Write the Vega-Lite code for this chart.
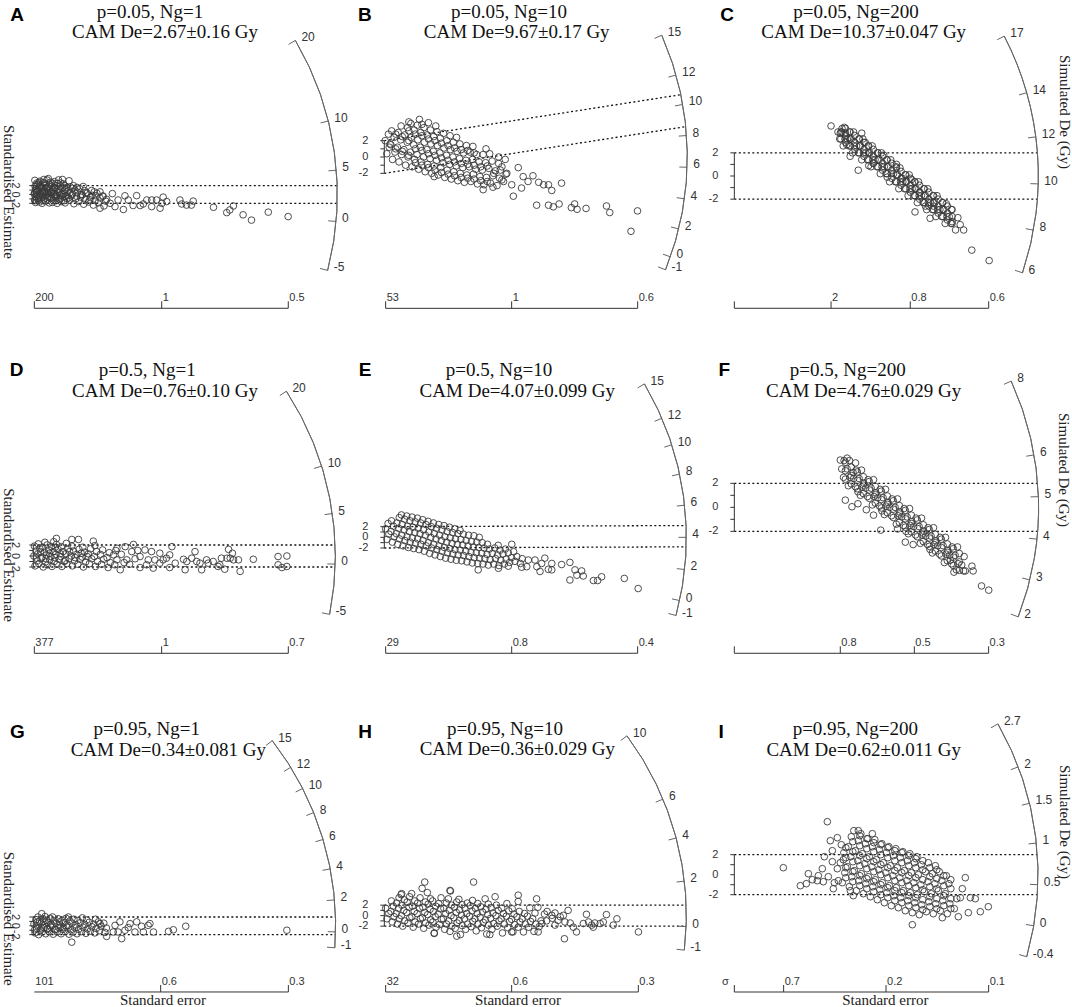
{
"$schema":"https://vega.github.io/schema/vega-lite/v6.json",
"background":"white","padding":0,"spacing":0,
"config":{"view":{"stroke":null},"concat":{"spacing":0}},
"vconcat":[
{"hconcat":[
{"width":357,"height":335,
"encoding":{"x":{"field":"x","type":"quantitative","scale":{"domain":[-7.54,73.29],"nice":false,"zero":false},"axis":null},"y":{"field":"y","type":"quantitative","scale":{"domain":[-31.81,44.03],"nice":false,"zero":false},"axis":null}},
"layer":[
{"data":{"values":[{"x":0,"y":2,"x2":68.8,"y2":2},{"x":0,"y":-2,"x2":68.8,"y2":-2}]},"mark":{"type":"rule","strokeDash":[2,2.5],"strokeWidth":1.3,"color":"#111"},"encoding":{"x2":{"field":"x2"},"y2":{"field":"y2"}}},
{"data":{"values":[{"x":0,"y":-2,"x2":0,"y2":2},{"x":-0.91,"y":-2,"x2":0,"y2":-2},{"x":-0.91,"y":-1,"x2":0,"y2":-1},{"x":-0.91,"y":0,"x2":0,"y2":0},{"x":-0.91,"y":1,"x2":0,"y2":1},{"x":-0.91,"y":2,"x2":0,"y2":2},{"x":0.23,"y":-25.76,"x2":57.73,"y2":-25.76},{"x":0.23,"y":-25.76,"x2":0.23,"y2":-24.18},{"x":29.07,"y":-25.76,"x2":29.07,"y2":-24.18},{"x":57.73,"y":-25.76,"x2":57.73,"y2":-24.18}]},"mark":{"type":"rule","strokeWidth":1,"color":"#333"},"encoding":{"x2":{"field":"x2"},"y2":{"field":"y2"}}},
{"data":{"values":[{"x":0,"y":0}]},"mark":{"type":"arc","radius":304,"radius2":304,"theta":1.0393,"theta2":1.8234,"filled":false,"stroke":"#666","strokeWidth":1}},
{"data":{"values":[{"x":59.34,"y":34.89,"x2":57.8,"y2":33.98},{"x":66.79,"y":16.63,"x2":65.05,"y2":16.2},{"x":68.61,"y":5.49,"x2":66.83,"y2":5.35},{"x":68.56,"y":-6.11,"x2":66.78,"y2":-5.95},{"x":66.65,"y":-17.19,"x2":64.92,"y2":-16.74}]},"mark":{"type":"rule","color":"#666","strokeWidth":1},"encoding":{"x2":{"field":"x2"},"y2":{"field":"y2"}}},
{"data":{"values":[{"x":59.34,"y":34.89,"t":"20"},{"x":66.79,"y":16.63,"t":"10"},{"x":68.61,"y":5.49,"t":"5"},{"x":68.56,"y":-6.11,"t":"0"},{"x":66.65,"y":-17.19,"t":"-5"}]},"mark":{"type":"text","align":"left","baseline":"middle","dx":6,"dy":-3,"font":"Liberation Sans","fontSize":12,"color":"#333"},"encoding":{"text":{"field":"t"}}},
{"data":{"values":[{"x":0.23,"y":-25.76,"t":"200"},{"x":29.07,"y":-25.76,"t":"1"},{"x":57.73,"y":-25.76,"t":"0.5"}]},"mark":{"type":"text","align":"left","baseline":"middle","dx":1,"dy":-10,"font":"Liberation Sans","fontSize":11,"color":"#333"},"encoding":{"text":{"field":"t"}}},
{"data":{"values":[{"x":-4.08,"y":2,"t":"2"},{"x":-4.08,"y":0,"t":"0"},{"x":-4.08,"y":-2,"t":"-2"}]},"mark":{"type":"text","angle":90,"align":"center","baseline":"middle","font":"Liberation Sans","fontSize":11,"color":"#333"},"encoding":{"text":{"field":"t"}}},
{"data":{"values":[{"x":26.42,"y":41.25,"t":"p=0.05, Ng=1"},{"x":29.82,"y":36.72,"t":"CAM De=2.67±0.16 Gy"}]},"mark":{"type":"text","font":"Liberation Serif","fontSize":19,"align":"center","baseline":"middle","color":"#111"},"encoding":{"text":{"field":"t"}}},
{"data":{"values":[{"x":-3.69,"y":40.64,"t":"A"}]},"mark":{"type":"text","font":"Liberation Sans","fontWeight":"bold","fontSize":19,"align":"center","baseline":"middle","color":"#000"},"encoding":{"text":{"field":"t"}}},
{"data":{"values":[{"x":-5.43,"y":0.57,"t":"Standardised Estimate"}]},"mark":{"type":"text","angle":90,"font":"Liberation Serif","fontSize":15,"align":"center","baseline":"middle","color":"#222"},"encoding":{"text":{"field":"t"}}},
{"data":{"values":[{"x":0.5,"y":-1.8},{"x":0.9,"y":-0.9},{"x":0.2,"y":0.1},{"x":0.7,"y":1.0},{"x":0.4,"y":1.9},{"x":0.8,"y":2.6},{"x":1.2,"y":-1.3},{"x":1.6,"y":-0.4},{"x":0.9,"y":0.5},{"x":1.4,"y":1.4},{"x":1.1,"y":2.3},{"x":1.5,"y":3.0},{"x":2.0,"y":-2.0},{"x":2.4,"y":-1.0},{"x":1.7,"y":0.0},{"x":2.2,"y":0.9},{"x":1.9,"y":1.8},{"x":2.3,"y":2.7},{"x":2.8,"y":-1.5},{"x":3.2,"y":-0.6},{"x":2.5,"y":0.4},{"x":3.0,"y":1.3},{"x":2.7,"y":2.2},{"x":3.1,"y":3.3},{"x":3.6,"y":-1.9},{"x":4.0,"y":-0.9},{"x":3.3,"y":0.1},{"x":3.8,"y":1.0},{"x":3.5,"y":1.9},{"x":3.9,"y":2.8},{"x":4.5,"y":-1.4},{"x":4.9,"y":-0.4},{"x":4.2,"y":0.6},{"x":4.7,"y":1.5},{"x":4.4,"y":2.5},{"x":5.4,"y":-2.0},{"x":5.8,"y":-1.0},{"x":5.1,"y":0.0},{"x":5.6,"y":1.1},{"x":5.3,"y":2.0},{"x":5.7,"y":3.3},{"x":6.3,"y":-1.6},{"x":6.7,"y":-0.5},{"x":6.0,"y":0.5},{"x":6.5,"y":1.5},{"x":6.2,"y":2.6},{"x":7.2,"y":-1.9},{"x":7.6,"y":-0.9},{"x":6.9,"y":0.2},{"x":7.4,"y":1.2},{"x":7.1,"y":2.0},{"x":8.2,"y":-1.3},{"x":8.6,"y":-0.3},{"x":7.9,"y":0.8},{"x":8.4,"y":1.7},{"x":8.1,"y":3.1},{"x":9.2,"y":-2.1},{"x":9.6,"y":-1.0},{"x":8.9,"y":0.1},{"x":9.4,"y":1.0},{"x":9.1,"y":2.0},{"x":10.3,"y":-1.6},{"x":10.7,"y":-0.6},{"x":10.0,"y":0.5},{"x":10.5,"y":1.3},{"x":11.4,"y":-2.2},{"x":11.8,"y":-1.1},{"x":11.1,"y":-0.1},{"x":11.6,"y":0.9},{"x":11.3,"y":1.8},{"x":12.5,"y":-1.7},{"x":12.9,"y":-0.7},{"x":12.2,"y":0.3},{"x":13.6,"y":-2.4},{"x":14.0,"y":-1.3},{"x":13.3,"y":-0.2},{"x":13.8,"y":0.6},{"x":14.7,"y":-1.9},{"x":15.1,"y":-0.8},{"x":14.4,"y":0.3},{"x":16.0,"y":-2.6},{"x":16.4,"y":-1.5},{"x":15.7,"y":-0.4},{"x":0.3,"y":-1.2},{"x":1.0,"y":-0.2},{"x":0.6,"y":0.6},{"x":1.3,"y":1.7},{"x":2.6,"y":-0.2},{"x":2.1,"y":0.4},{"x":3.4,"y":-0.4},{"x":3.0,"y":0.6},{"x":4.1,"y":0.1},{"x":4.6,"y":1.0},{"x":5.0,"y":-0.6},{"x":6.1,"y":-0.1},{"x":5.5,"y":0.5},{"x":7.0,"y":0.8},{"x":7.7,"y":-0.3},{"x":0.4,"y":-1.4},{"x":0.6,"y":-0.5},{"x":0.3,"y":0.4},{"x":0.5,"y":1.3},{"x":0.7,"y":2.2},{"x":0.35,"y":3.2},{"x":1.4,"y":-1.7},{"x":1.2,"y":-0.8},{"x":1.5,"y":0.1},{"x":1.1,"y":1.0},{"x":1.6,"y":2.0},{"x":1.3,"y":2.7},{"x":2.3,"y":-1.4},{"x":2.1,"y":-0.5},{"x":2.5,"y":0.6},{"x":2.2,"y":1.5},{"x":2.6,"y":2.5},{"x":2.4,"y":3.4},{"x":3.2,"y":-1.0},{"x":3.4,"y":0.4},{"x":3.1,"y":1.6},{"x":3.7,"y":2.4},{"x":3.4,"y":3.6},{"x":4.3,"y":-1.8},{"x":4.1,"y":-0.7},{"x":4.6,"y":0.3},{"x":4.2,"y":1.9},{"x":4.8,"y":2.9},{"x":5.2,"y":-1.4},{"x":5.3,"y":-0.3},{"x":5.0,"y":1.4},{"x":5.5,"y":2.5},{"x":6.0,"y":-1.1},{"x":6.4,"y":0.1},{"x":6.1,"y":1.9},{"x":6.6,"y":3.4},{"x":7.0,"y":-1.4},{"x":7.3,"y":-0.4},{"x":7.5,"y":1.6},{"x":6.8,"y":2.4},{"x":8.0,"y":-0.8},{"x":8.3,"y":0.4},{"x":8.8,"y":1.4},{"x":9.8,"y":-0.4},{"x":9.9,"y":1.6},{"x":10.8,"y":0.0},{"x":11.9,"y":0.4},{"x":12.8,"y":-1.2},{"x":13.2,"y":0.9},{"x":14.2,"y":-0.3},{"x":23.4,"y":-0.26},{"x":25.7,"y":-1.25},{"x":26.8,"y":-2.75},{"x":27.9,"y":-1.25},{"x":29.1,"y":-2.0},{"x":28.7,"y":-3.1},{"x":30.2,"y":-1.6},{"x":29.4,"y":-0.6},{"x":33.2,"y":-1.25},{"x":33.6,"y":-2.15},{"x":34.7,"y":-2.4},{"x":36.2,"y":-1.5},{"x":35.8,"y":-2.4},{"x":40.8,"y":-2.9},{"x":43.8,"y":-4.1},{"x":44.5,"y":-3.5},{"x":45.3,"y":-2.6},{"x":47.5,"y":-4.6},{"x":49.4,"y":-5.8},{"x":53.2,"y":-4.0},{"x":57.7,"y":-5.0},{"x":20.4,"y":-3.4},{"x":15.1,"y":-3.1},{"x":18.5,"y":-2.75},{"x":22.6,"y":-2.5},{"x":24.2,"y":-2.5},{"x":24.9,"y":-2.15},{"x":26.8,"y":-1.25},{"x":20.75,"y":-0.3},{"x":21.5,"y":-1.25},{"x":19.2,"y":-1.25},{"x":17.4,"y":-2.0},{"x":16.6,"y":-1.1},{"x":15.8,"y":-0.35},{"x":15.1,"y":0.6},{"x":17.9,"y":0.2}]},"mark":{"type":"point","shape":"circle","filled":false,"size":44,"strokeWidth":0.9,"color":"#3a3a3a","opacity":1}}
]},
{"width":357,"height":335,
"encoding":{"x":{"field":"x","type":"quantitative","scale":{"domain":[-3.346,40.366],"nice":false,"zero":false},"axis":null},"y":{"field":"y","type":"quantitative","scale":{"domain":[-21.795,19.224],"nice":false,"zero":false},"axis":null}},
"layer":[
{"data":{"values":[{"x":0,"y":2,"x2":36.31,"y2":7.63},{"x":0,"y":-2,"x2":36.91,"y2":3.72}]},"mark":{"type":"rule","strokeDash":[2,2.5],"strokeWidth":1.3,"color":"#111"},"encoding":{"x2":{"field":"x2"},"y2":{"field":"y2"}}},
{"data":{"values":[{"x":0,"y":-2,"x2":0,"y2":2},{"x":-0.49,"y":-2,"x2":0,"y2":-2},{"x":-0.49,"y":-1,"x2":0,"y2":-1},{"x":-0.49,"y":0,"x2":0,"y2":0},{"x":-0.49,"y":1,"x2":0,"y2":1},{"x":-0.49,"y":2,"x2":0,"y2":2},{"x":0.16,"y":-18.53,"x2":31.02,"y2":-18.53},{"x":0.16,"y":-18.53,"x2":0.16,"y2":-17.67},{"x":15.59,"y":-18.53,"x2":15.59,"y2":-17.67},{"x":31.02,"y":-18.53,"x2":31.02,"y2":-17.67}]},"mark":{"type":"rule","strokeWidth":1,"color":"#333"},"encoding":{"x2":{"field":"x2"},"y2":{"field":"y2"}}},
{"data":{"values":[{"x":0,"y":0}]},"mark":{"type":"arc","radius":303,"radius2":303,"theta":1.1572,"theta2":1.9521,"filled":false,"stroke":"#666","strokeWidth":1}},
{"data":{"values":[{"x":33.97,"y":14.91,"x2":33.09,"y2":14.52},{"x":35.72,"y":10.04,"x2":34.79,"y2":9.78},{"x":36.54,"y":6.43,"x2":35.59,"y2":6.26},{"x":37.01,"y":2.63,"x2":36.05,"y2":2.56},{"x":37.08,"y":-1.26,"x2":36.12,"y2":-1.23},{"x":36.75,"y":-5.11,"x2":35.79,"y2":-4.98},{"x":36.04,"y":-8.8,"x2":35.1,"y2":-8.57},{"x":35.03,"y":-12.22,"x2":34.12,"y2":-11.9},{"x":34.43,"y":-13.81,"x2":33.53,"y2":-13.45}]},"mark":{"type":"rule","color":"#666","strokeWidth":1},"encoding":{"x2":{"field":"x2"},"y2":{"field":"y2"}}},
{"data":{"values":[{"x":33.97,"y":14.91,"t":"15"},{"x":35.72,"y":10.04,"t":"12"},{"x":36.54,"y":6.43,"t":"10"},{"x":37.01,"y":2.63,"t":"8"},{"x":37.08,"y":-1.26,"t":"6"},{"x":36.75,"y":-5.11,"t":"4"},{"x":36.04,"y":-8.8,"t":"2"},{"x":35.03,"y":-12.22,"t":"0"},{"x":34.43,"y":-13.81,"t":"-1"}]},"mark":{"type":"text","align":"left","baseline":"middle","dx":6,"dy":-3,"font":"Liberation Sans","fontSize":12,"color":"#333"},"encoding":{"text":{"field":"t"}}},
{"data":{"values":[{"x":0.16,"y":-18.53,"t":"53"},{"x":15.59,"y":-18.53,"t":"1"},{"x":31.02,"y":-18.53,"t":"0.6"}]},"mark":{"type":"text","align":"left","baseline":"middle","dx":1,"dy":-10,"font":"Liberation Sans","fontSize":11,"color":"#333"},"encoding":{"text":{"field":"t"}}},
{"data":{"values":[{"x":-1.96,"y":2,"t":"2"},{"x":-1.96,"y":0,"t":"0"},{"x":-1.96,"y":-2,"t":"-2"}]},"mark":{"type":"text","align":"right","baseline":"middle","font":"Liberation Sans","fontSize":11,"color":"#333"},"encoding":{"text":{"field":"t"}}},
{"data":{"values":[{"x":15.27,"y":17.72,"t":"p=0.05, Ng=10"},{"x":16.21,"y":15.27,"t":"CAM De=9.67±0.17 Gy"}]},"mark":{"type":"text","font":"Liberation Serif","fontSize":19,"align":"center","baseline":"middle","color":"#111"},"encoding":{"text":{"field":"t"}}},
{"data":{"values":[{"x":-2.37,"y":17.39,"t":"B"}]},"mark":{"type":"text","font":"Liberation Sans","fontWeight":"bold","fontSize":19,"align":"center","baseline":"middle","color":"#000"},"encoding":{"text":{"field":"t"}}},
{"data":{"values":[{"x":0.3,"y":0.4},{"x":0.6,"y":1.2},{"x":0.1,"y":2.0},{"x":0.5,"y":2.8},{"x":1.0,"y":-0.3},{"x":1.3,"y":0.6},{"x":0.8,"y":1.5},{"x":1.2,"y":2.4},{"x":0.9,"y":3.2},{"x":1.8,"y":-0.6},{"x":2.1,"y":0.3},{"x":1.6,"y":1.2},{"x":2.0,"y":2.1},{"x":1.7,"y":3.0},{"x":2.05,"y":3.8},{"x":2.6,"y":-1.0},{"x":2.9,"y":0.0},{"x":2.4,"y":0.9},{"x":2.8,"y":1.8},{"x":2.5,"y":2.7},{"x":2.85,"y":3.6},{"x":3.4,"y":-1.2},{"x":3.7,"y":-0.3},{"x":3.2,"y":0.6},{"x":3.6,"y":1.5},{"x":3.3,"y":2.4},{"x":3.65,"y":3.3},{"x":3.25,"y":4.1},{"x":4.2,"y":-1.5},{"x":4.5,"y":-0.6},{"x":4.0,"y":0.3},{"x":4.4,"y":1.2},{"x":4.1,"y":2.1},{"x":4.45,"y":3.0},{"x":4.05,"y":3.9},{"x":4.3,"y":4.6},{"x":5.0,"y":-1.8},{"x":5.3,"y":-0.9},{"x":4.8,"y":0.0},{"x":5.2,"y":0.9},{"x":4.9,"y":1.8},{"x":5.25,"y":2.7},{"x":4.85,"y":3.6},{"x":5.8,"y":-2.0},{"x":6.1,"y":-1.1},{"x":5.6,"y":-0.2},{"x":6.0,"y":0.7},{"x":5.7,"y":1.6},{"x":6.05,"y":2.5},{"x":5.65,"y":3.3},{"x":6.6,"y":-2.2},{"x":6.9,"y":-1.3},{"x":6.4,"y":-0.4},{"x":6.8,"y":0.5},{"x":6.5,"y":1.4},{"x":6.85,"y":2.3},{"x":6.45,"y":3.1},{"x":7.4,"y":-2.5},{"x":7.7,"y":-1.6},{"x":7.2,"y":-0.7},{"x":7.6,"y":0.2},{"x":7.3,"y":1.1},{"x":7.65,"y":2.0},{"x":7.25,"y":2.9},{"x":8.2,"y":-2.7},{"x":8.5,"y":-1.8},{"x":8.0,"y":-0.9},{"x":8.4,"y":0.0},{"x":8.1,"y":0.9},{"x":8.45,"y":1.8},{"x":8.05,"y":2.6},{"x":9.0,"y":-2.9},{"x":9.3,"y":-2.0},{"x":8.8,"y":-1.1},{"x":9.2,"y":-0.2},{"x":8.9,"y":0.7},{"x":9.25,"y":1.6},{"x":8.85,"y":2.4},{"x":9.8,"y":-3.1},{"x":10.1,"y":-2.2},{"x":9.6,"y":-1.3},{"x":10.0,"y":-0.4},{"x":9.7,"y":0.5},{"x":10.05,"y":1.4},{"x":10.6,"y":-3.0},{"x":10.9,"y":-2.1},{"x":10.4,"y":-1.2},{"x":10.8,"y":-0.3},{"x":10.5,"y":0.6},{"x":10.85,"y":1.3},{"x":11.4,"y":-3.3},{"x":11.7,"y":-2.4},{"x":11.2,"y":-1.5},{"x":11.6,"y":-0.6},{"x":11.3,"y":0.3},{"x":12.2,"y":-3.4},{"x":12.5,"y":-2.5},{"x":12.0,"y":-1.6},{"x":12.4,"y":-0.7},{"x":12.1,"y":0.3},{"x":12.45,"y":1.0},{"x":13.0,"y":-3.2},{"x":13.3,"y":-2.3},{"x":12.8,"y":-1.4},{"x":13.2,"y":-0.5},{"x":12.9,"y":0.4},{"x":13.8,"y":-3.5},{"x":14.1,"y":-2.6},{"x":13.6,"y":-1.7},{"x":14.0,"y":-0.8},{"x":14.6,"y":-3.0},{"x":14.9,"y":-2.1},{"x":14.4,"y":-1.2},{"x":14.8,"y":-0.3},{"x":0.7,"y":1.6},{"x":1.4,"y":1.0},{"x":1.4,"y":2.8},{"x":2.2,"y":0.7},{"x":2.2,"y":2.5},{"x":3.0,"y":0.2},{"x":3.0,"y":2.0},{"x":3.0,"y":3.2},{"x":3.8,"y":-0.7},{"x":3.8,"y":1.0},{"x":3.8,"y":2.8},{"x":4.6,"y":-1.0},{"x":4.6,"y":0.8},{"x":4.6,"y":2.6},{"x":4.6,"y":4.0},{"x":5.4,"y":-1.3},{"x":5.4,"y":0.4},{"x":5.4,"y":2.2},{"x":6.2,"y":-1.6},{"x":6.2,"y":0.2},{"x":6.2,"y":2.0},{"x":7.0,"y":-1.9},{"x":7.0,"y":-0.1},{"x":7.0,"y":1.7},{"x":7.8,"y":-2.1},{"x":7.8,"y":-0.4},{"x":7.8,"y":1.4},{"x":8.6,"y":-2.3},{"x":8.6,"y":-0.6},{"x":8.6,"y":1.1},{"x":9.4,"y":-2.5},{"x":9.4,"y":-0.8},{"x":9.4,"y":0.9},{"x":10.2,"y":-2.6},{"x":10.2,"y":-0.9},{"x":10.2,"y":0.8},{"x":11.0,"y":-2.7},{"x":11.0,"y":-1.0},{"x":11.0,"y":0.5},{"x":11.8,"y":-2.9},{"x":11.8,"y":-1.2},{"x":12.6,"y":-3.0},{"x":12.6,"y":-1.1},{"x":13.4,"y":-2.0},{"x":14.2,"y":-1.6},{"x":3.0,"y":4.3},{"x":5.4,"y":4.2},{"x":6.3,"y":3.8},{"x":6.1,"y":-2.4},{"x":12.1,"y":-4.0},{"x":13.3,"y":-3.7},{"x":15.8,"y":-4.8},{"x":16.4,"y":-1.3},{"x":17.0,"y":-2.4},{"x":17.6,"y":-3.0},{"x":18.2,"y":-2.3},{"x":18.9,"y":-3.1},{"x":19.5,"y":-3.4},{"x":20.1,"y":-3.4},{"x":20.5,"y":-4.1},{"x":21.7,"y":-3.2},{"x":18.65,"y":-5.9},{"x":20.1,"y":-5.9},{"x":20.7,"y":-6.1},{"x":21.4,"y":-5.75},{"x":22.9,"y":-6.2},{"x":23.3,"y":-5.75},{"x":23.6,"y":-6.4},{"x":24.7,"y":-6.3},{"x":27.2,"y":-6.0},{"x":27.6,"y":-6.8},{"x":31.0,"y":-6.6},{"x":30.2,"y":-9.1},{"x":16.8,"y":-3.8},{"x":15.6,"y":-3.4},{"x":14.4,"y":-2.8},{"x":15.0,"y":-2.0},{"x":14.0,"y":0.0}]},"mark":{"type":"point","shape":"circle","filled":false,"size":44,"strokeWidth":0.9,"color":"#3a3a3a","opacity":1}}
]},
{"width":358,"height":335,
"encoding":{"x":{"field":"x","type":"quantitative","scale":{"domain":[-1.755,29.152],"nice":false,"zero":false},"axis":null},"y":{"field":"y","type":"quantitative","scale":{"domain":[-13.727,15.195],"nice":false,"zero":false},"axis":null}},
"layer":[
{"data":{"values":[{"x":0,"y":2,"x2":26.17,"y2":2},{"x":0,"y":-2,"x2":26.17,"y2":-2}]},"mark":{"type":"rule","strokeDash":[2,2.5],"strokeWidth":1.3,"color":"#111"},"encoding":{"x2":{"field":"x2"},"y2":{"field":"y2"}}},
{"data":{"values":[{"x":0,"y":-2,"x2":0,"y2":2},{"x":-0.345,"y":-2,"x2":0,"y2":-2},{"x":-0.345,"y":-1,"x2":0,"y2":-1},{"x":-0.345,"y":0,"x2":0,"y2":0},{"x":-0.345,"y":1,"x2":0,"y2":1},{"x":-0.345,"y":2,"x2":0,"y2":2},{"x":0,"y":-11.42,"x2":21.96,"y2":-11.42},{"x":0,"y":-11.42,"x2":0,"y2":-10.82},{"x":8.35,"y":-11.42,"x2":8.35,"y2":-10.82},{"x":15.19,"y":-11.42,"x2":15.19,"y2":-10.82},{"x":21.96,"y":-11.42,"x2":21.96,"y2":-10.82}]},"mark":{"type":"rule","strokeWidth":1,"color":"#333"},"encoding":{"x2":{"field":"x2"},"y2":{"field":"y2"}}},
{"data":{"values":[{"x":0,"y":0}]},"mark":{"type":"arc","radius":304,"radius2":304,"theta":1.0929,"theta2":1.8949,"filled":false,"stroke":"#666","strokeWidth":1}},
{"data":{"values":[{"x":23.3,"y":12.07,"x2":22.69,"y2":11.76},{"x":25.24,"y":7.19,"x2":24.58,"y2":7.0},{"x":26.03,"y":3.38,"x2":25.35,"y2":3.29},{"x":26.24,"y":-0.68,"x2":25.56,"y2":-0.66},{"x":25.83,"y":-4.67,"x2":25.16,"y2":-4.55},{"x":24.88,"y":-8.36,"x2":24.23,"y2":-8.14}]},"mark":{"type":"rule","color":"#666","strokeWidth":1},"encoding":{"x2":{"field":"x2"},"y2":{"field":"y2"}}},
{"data":{"values":[{"x":23.3,"y":12.07,"t":"17"},{"x":25.24,"y":7.19,"t":"14"},{"x":26.03,"y":3.38,"t":"12"},{"x":26.24,"y":-0.68,"t":"10"},{"x":25.83,"y":-4.67,"t":"8"},{"x":24.88,"y":-8.36,"t":"6"}]},"mark":{"type":"text","align":"left","baseline":"middle","dx":6,"dy":-3,"font":"Liberation Sans","fontSize":12,"color":"#333"},"encoding":{"text":{"field":"t"}}},
{"data":{"values":[{"x":8.35,"y":-11.42,"t":"2"},{"x":15.19,"y":-11.42,"t":"0.8"},{"x":21.96,"y":-11.42,"t":"0.6"}]},"mark":{"type":"text","align":"left","baseline":"middle","dx":1,"dy":-10,"font":"Liberation Sans","fontSize":11,"color":"#333"},"encoding":{"text":{"field":"t"}}},
{"data":{"values":[{"x":-1.38,"y":2,"t":"2"},{"x":-1.38,"y":0,"t":"0"},{"x":-1.38,"y":-2,"t":"-2"}]},"mark":{"type":"text","align":"right","baseline":"middle","font":"Liberation Sans","fontSize":11,"color":"#333"},"encoding":{"text":{"field":"t"}}},
{"data":{"values":[{"x":10.5,"y":14.13,"t":"p=0.05, Ng=200"},{"x":11.17,"y":12.41,"t":"CAM De=10.37±0.047 Gy"}]},"mark":{"type":"text","font":"Liberation Serif","fontSize":19,"align":"center","baseline":"middle","color":"#111"},"encoding":{"text":{"field":"t"}}},
{"data":{"values":[{"x":-0.63,"y":13.9,"t":"C"}]},"mark":{"type":"text","font":"Liberation Sans","fontWeight":"bold","fontSize":19,"align":"center","baseline":"middle","color":"#000"},"encoding":{"text":{"field":"t"}}},
{"data":{"values":[{"x":28.55,"y":5.53,"t":"Simulated De  (Gy)"}]},"mark":{"type":"text","angle":90,"font":"Liberation Serif","fontSize":15,"align":"center","baseline":"middle","color":"#222"},"encoding":{"text":{"field":"t"}}},
{"data":{"values":[{"x":8.35,"y":4.32},{"x":9.15,"y":3.68},{"x":9.6,"y":3.7},{"x":9.7,"y":2.7},{"x":11.0,"y":3.7},{"x":9.3,"y":4.1},{"x":9.9,"y":3.3},{"x":9.1,"y":3.2},{"x":8.95,"y":3.8},{"x":9.4,"y":2.6},{"x":9.55,"y":3.2},{"x":9.3,"y":3.8},{"x":9.5,"y":4.2},{"x":9.9,"y":2.6},{"x":9.75,"y":3.2},{"x":9.95,"y":3.8},{"x":10.2,"y":2.0},{"x":10.35,"y":2.6},{"x":10.1,"y":3.2},{"x":10.3,"y":3.8},{"x":10.7,"y":2.0},{"x":10.55,"y":2.6},{"x":10.75,"y":3.2},{"x":11.0,"y":1.4},{"x":11.15,"y":2.0},{"x":10.9,"y":2.6},{"x":11.1,"y":3.2},{"x":11.5,"y":1.4},{"x":11.35,"y":2.0},{"x":11.55,"y":2.6},{"x":11.8,"y":0.8},{"x":11.95,"y":1.4},{"x":11.7,"y":2.0},{"x":11.9,"y":2.6},{"x":12.3,"y":0.8},{"x":12.15,"y":1.4},{"x":12.35,"y":2.0},{"x":12.6,"y":0.2},{"x":12.75,"y":0.8},{"x":12.5,"y":1.4},{"x":12.7,"y":2.0},{"x":13.1,"y":0.2},{"x":12.95,"y":0.8},{"x":13.15,"y":1.4},{"x":13.4,"y":-0.5},{"x":13.55,"y":0.2},{"x":13.3,"y":0.8},{"x":13.5,"y":1.4},{"x":13.9,"y":-0.5},{"x":13.75,"y":0.2},{"x":13.95,"y":0.8},{"x":14.2,"y":-1.1},{"x":14.35,"y":-0.5},{"x":14.1,"y":0.1},{"x":14.3,"y":0.7},{"x":14.7,"y":-1.1},{"x":14.55,"y":-0.5},{"x":14.75,"y":0.1},{"x":15.0,"y":-1.7},{"x":15.15,"y":-1.1},{"x":14.9,"y":-0.5},{"x":15.1,"y":0.1},{"x":15.5,"y":-1.7},{"x":15.35,"y":-1.1},{"x":15.55,"y":-0.5},{"x":15.8,"y":-2.3},{"x":15.95,"y":-1.7},{"x":15.7,"y":-1.1},{"x":15.9,"y":-0.5},{"x":16.3,"y":-2.3},{"x":16.15,"y":-1.7},{"x":16.35,"y":-1.1},{"x":16.6,"y":-2.9},{"x":16.75,"y":-2.3},{"x":16.5,"y":-1.7},{"x":16.7,"y":-1.1},{"x":17.1,"y":-2.9},{"x":16.95,"y":-2.3},{"x":17.15,"y":-1.7},{"x":17.4,"y":-3.5},{"x":17.55,"y":-2.9},{"x":17.3,"y":-2.3},{"x":17.5,"y":-1.7},{"x":17.9,"y":-3.5},{"x":17.75,"y":-2.9},{"x":17.95,"y":-2.3},{"x":18.2,"y":-4.1},{"x":18.35,"y":-3.5},{"x":18.1,"y":-2.9},{"x":18.3,"y":-2.4},{"x":18.7,"y":-4.1},{"x":18.55,"y":-3.5},{"x":18.75,"y":-2.9},{"x":19.1,"y":-4.66},{"x":19.8,"y":-4.66},{"x":18.8,"y":-3.94},{"x":19.3,"y":-3.6},{"x":19.5,"y":-4.2},{"x":20.5,"y":-6.4},{"x":22.0,"y":-7.3},{"x":10.7,"y":0.5},{"x":15.6,"y":-3.1},{"x":16.9,"y":-3.65},{"x":10.0,"y":1.7},{"x":11.3,"y":2.9},{"x":12.0,"y":1.1},{"x":13.2,"y":-0.1},{"x":14.5,"y":-0.2},{"x":15.3,"y":-0.3},{"x":16.0,"y":-1.4},{"x":17.2,"y":-2.6},{"x":12.9,"y":1.8},{"x":14.0,"y":1.0},{"x":16.5,"y":-2.6},{"x":11.6,"y":0.9},{"x":9.2,"y":3.2},{"x":9.2,"y":3.8},{"x":9.6,"y":2.9},{"x":9.6,"y":3.5},{"x":9.6,"y":4.1},{"x":10.0,"y":2.6},{"x":10.0,"y":3.2},{"x":10.0,"y":3.8},{"x":10.4,"y":2.3},{"x":10.4,"y":2.9},{"x":10.4,"y":3.5},{"x":10.8,"y":2.0},{"x":10.8,"y":2.6},{"x":10.8,"y":3.2},{"x":11.2,"y":1.7},{"x":11.2,"y":2.3},{"x":11.2,"y":2.9},{"x":11.6,"y":1.4},{"x":11.6,"y":2.0},{"x":11.6,"y":2.6},{"x":12.0,"y":1.1},{"x":12.0,"y":1.7},{"x":12.0,"y":2.3},{"x":12.4,"y":0.8},{"x":12.4,"y":1.4},{"x":12.4,"y":2.0},{"x":12.8,"y":0.5},{"x":12.8,"y":1.1},{"x":12.8,"y":1.7},{"x":13.2,"y":0.2},{"x":13.2,"y":0.8},{"x":13.2,"y":1.4},{"x":13.6,"y":-0.2},{"x":13.6,"y":0.5},{"x":13.6,"y":1.1},{"x":14.0,"y":-0.5},{"x":14.0,"y":0.1},{"x":14.0,"y":0.7},{"x":14.4,"y":-0.8},{"x":14.4,"y":-0.2},{"x":14.4,"y":0.4},{"x":14.8,"y":-1.1},{"x":14.8,"y":-0.5},{"x":14.8,"y":0.1},{"x":15.2,"y":-1.4},{"x":15.2,"y":-0.8},{"x":15.2,"y":-0.2},{"x":15.6,"y":-1.7},{"x":15.6,"y":-1.1},{"x":15.6,"y":-0.5},{"x":16.0,"y":-2.0},{"x":16.0,"y":-1.4},{"x":16.0,"y":-0.8},{"x":16.4,"y":-2.3},{"x":16.4,"y":-1.7},{"x":16.4,"y":-1.1},{"x":16.8,"y":-2.6},{"x":16.8,"y":-2.0},{"x":16.8,"y":-1.4},{"x":17.2,"y":-2.9},{"x":17.2,"y":-2.3},{"x":17.2,"y":-1.7},{"x":17.6,"y":-3.2},{"x":17.6,"y":-2.6},{"x":17.6,"y":-2.0},{"x":18.0,"y":-3.5},{"x":18.0,"y":-2.9},{"x":18.0,"y":-2.3},{"x":18.4,"y":-3.8},{"x":18.4,"y":-3.2},{"x":18.4,"y":-2.6},{"x":18.8,"y":-4.1},{"x":18.8,"y":-3.5},{"x":18.8,"y":-2.9}]},"mark":{"type":"point","shape":"circle","filled":false,"size":44,"strokeWidth":0.9,"color":"#3a3a3a","opacity":1}}
]}
],"spacing":0,"bounds":"flush"},
{"hconcat":[
{"width":357,"height":337,
"encoding":{"x":{"field":"x","type":"quantitative","scale":{"domain":[-6.06,58.85],"nice":false,"zero":false},"axis":null},"y":{"field":"y","type":"quantitative","scale":{"domain":[-21.09,40.18],"nice":false,"zero":false},"axis":null}},
"layer":[
{"data":{"values":[{"x":0,"y":2,"x2":54.87,"y2":2},{"x":0,"y":-2,"x2":54.87,"y2":-2}]},"mark":{"type":"rule","strokeDash":[2,2.5],"strokeWidth":1.3,"color":"#111"},"encoding":{"x2":{"field":"x2"},"y2":{"field":"y2"}}},
{"data":{"values":[{"x":0,"y":-2,"x2":0,"y2":2},{"x":-0.73,"y":-2,"x2":0,"y2":-2},{"x":-0.73,"y":-1,"x2":0,"y2":-1},{"x":-0.73,"y":0,"x2":0,"y2":0},{"x":-0.73,"y":1,"x2":0,"y2":1},{"x":-0.73,"y":2,"x2":0,"y2":2},{"x":0.18,"y":-17.69,"x2":46.36,"y2":-17.69},{"x":0.18,"y":-17.69,"x2":0.18,"y2":-16.42},{"x":23.33,"y":-17.69,"x2":23.33,"y2":-16.42},{"x":46.36,"y":-17.69,"x2":46.36,"y2":-16.42}]},"mark":{"type":"rule","strokeWidth":1,"color":"#333"},"encoding":{"x2":{"field":"x2"},"y2":{"field":"y2"}}},
{"data":{"values":[{"x":0,"y":0}]},"mark":{"type":"arc","radius":302,"radius2":302,"theta":0.9936,"theta2":1.7653,"filled":false,"stroke":"#666","strokeWidth":1}},
{"data":{"values":[{"x":46.02,"y":29.96,"x2":44.82,"y2":29.18},{"x":52.42,"y":16.35,"x2":51.06,"y2":15.92},{"x":54.37,"y":7.72,"x2":52.96,"y2":7.52},{"x":54.89,"y":-1.48,"x2":53.46,"y2":-1.44},{"x":53.87,"y":-10.61,"x2":52.47,"y2":-10.33}]},"mark":{"type":"rule","color":"#666","strokeWidth":1},"encoding":{"x2":{"field":"x2"},"y2":{"field":"y2"}}},
{"data":{"values":[{"x":46.02,"y":29.96,"t":"20"},{"x":52.42,"y":16.35,"t":"10"},{"x":54.37,"y":7.72,"t":"5"},{"x":54.89,"y":-1.48,"t":"0"},{"x":53.87,"y":-10.61,"t":"-5"}]},"mark":{"type":"text","align":"left","baseline":"middle","dx":6,"dy":-3,"font":"Liberation Sans","fontSize":12,"color":"#333"},"encoding":{"text":{"field":"t"}}},
{"data":{"values":[{"x":0.18,"y":-17.69,"t":"377"},{"x":23.33,"y":-17.69,"t":"1"},{"x":46.36,"y":-17.69,"t":"0.7"}]},"mark":{"type":"text","align":"left","baseline":"middle","dx":1,"dy":-10,"font":"Liberation Sans","fontSize":11,"color":"#333"},"encoding":{"text":{"field":"t"}}},
{"data":{"values":[{"x":-3.27,"y":2,"t":"2"},{"x":-3.27,"y":0,"t":"0"},{"x":-3.27,"y":-2,"t":"-2"}]},"mark":{"type":"text","angle":90,"align":"center","baseline":"middle","font":"Liberation Sans","fontSize":11,"color":"#333"},"encoding":{"text":{"field":"t"}}},
{"data":{"values":[{"x":20.72,"y":33.82,"t":"p=0.5, Ng=1"},{"x":23.94,"y":30.0,"t":"CAM De=0.76±0.10 Gy"}]},"mark":{"type":"text","font":"Liberation Serif","fontSize":19,"align":"center","baseline":"middle","color":"#111"},"encoding":{"text":{"field":"t"}}},
{"data":{"values":[{"x":-3.02,"y":33.82,"t":"D"}]},"mark":{"type":"text","font":"Liberation Sans","fontWeight":"bold","fontSize":19,"align":"center","baseline":"middle","color":"#000"},"encoding":{"text":{"field":"t"}}},
{"data":{"values":[{"x":-4.37,"y":0.18,"t":"Standardised Estimate"}]},"mark":{"type":"text","angle":90,"font":"Liberation Serif","fontSize":15,"align":"center","baseline":"middle","color":"#222"},"encoding":{"text":{"field":"t"}}},
{"data":{"values":[{"x":0.3,"y":-1.8},{"x":0.7,"y":-0.9},{"x":0.1,"y":0},{"x":0.5,"y":0.9},{"x":0.2,"y":1.8},{"x":1.0,"y":-1.4},{"x":1.4,"y":-0.5},{"x":0.8,"y":0.4},{"x":1.2,"y":1.3},{"x":0.9,"y":2.2},{"x":1.8,"y":-2.0},{"x":2.2,"y":-1.1},{"x":1.6,"y":-0.2},{"x":2.0,"y":0.7},{"x":1.7,"y":1.6},{"x":2.1,"y":2.5},{"x":2.6,"y":-1.6},{"x":3.0,"y":-0.7},{"x":2.4,"y":0.2},{"x":2.8,"y":1.1},{"x":2.5,"y":2.0},{"x":3.4,"y":-1.9},{"x":3.8,"y":-1.0},{"x":3.2,"y":-0.1},{"x":3.6,"y":0.8},{"x":3.3,"y":1.7},{"x":3.7,"y":2.6},{"x":4.3,"y":-1.5},{"x":4.7,"y":-0.6},{"x":4.1,"y":0.3},{"x":4.5,"y":1.2},{"x":4.2,"y":2.1},{"x":5.2,"y":-1.9},{"x":5.6,"y":-1.0},{"x":5.0,"y":-0.1},{"x":5.4,"y":0.8},{"x":5.1,"y":1.7},{"x":6.1,"y":-1.4},{"x":6.5,"y":-0.5},{"x":5.9,"y":0.4},{"x":6.3,"y":1.3},{"x":6.0,"y":2.3},{"x":7.1,"y":-1.8},{"x":7.5,"y":-0.9},{"x":6.9,"y":0.0},{"x":7.3,"y":0.9},{"x":7.0,"y":1.8},{"x":8.1,"y":-1.5},{"x":8.5,"y":-0.6},{"x":7.9,"y":0.3},{"x":8.3,"y":1.2},{"x":9.1,"y":-2.0},{"x":9.5,"y":-1.1},{"x":8.9,"y":-0.2},{"x":9.3,"y":0.7},{"x":9.0,"y":1.6},{"x":10.2,"y":-1.4},{"x":10.6,"y":-0.5},{"x":10.0,"y":0.4},{"x":10.4,"y":1.3},{"x":11.3,"y":-1.9},{"x":11.7,"y":-1.0},{"x":11.1,"y":-0.1},{"x":11.5,"y":0.8},{"x":11.2,"y":1.9},{"x":12.4,"y":-1.5},{"x":12.8,"y":-0.6},{"x":12.2,"y":0.3},{"x":12.6,"y":1.1},{"x":13.6,"y":-2.1},{"x":14.0,"y":-1.2},{"x":13.4,"y":-0.3},{"x":13.8,"y":0.6},{"x":14.8,"y":-1.6},{"x":15.2,"y":-0.7},{"x":14.6,"y":0.2},{"x":15.0,"y":1.0},{"x":0.6,"y":-0.4},{"x":1.3,"y":0.8},{"x":2.3,"y":-0.5},{"x":2.9,"y":0.5},{"x":3.9,"y":-0.3},{"x":4.0,"y":1.6},{"x":4.9,"y":0.4},{"x":5.8,"y":-0.8},{"x":6.6,"y":0.8},{"x":7.6,"y":-0.3},{"x":8.7,"y":0.5},{"x":9.8,"y":-0.1},{"x":4.2,"y":3.2},{"x":7.0,"y":3.0},{"x":8.2,"y":3.0},{"x":10.9,"y":2.7},{"x":18.2,"y":2.1},{"x":16.7,"y":1.7},{"x":15.2,"y":1.4},{"x":15.8,"y":-2.5},{"x":19.4,"y":-2.1},{"x":20.3,"y":1.1},{"x":21.5,"y":0.8},{"x":22.1,"y":-0.7},{"x":23.0,"y":0.5},{"x":23.6,"y":-0.7},{"x":24.2,"y":-0.4},{"x":25.2,"y":1.7},{"x":24.8,"y":0.2},{"x":25.8,"y":-1.3},{"x":21.8,"y":-2.2},{"x":20.6,"y":-1.6},{"x":27.6,"y":-2.5},{"x":27.9,"y":-1.0},{"x":28.8,"y":-0.4},{"x":29.4,"y":0.8},{"x":29.7,"y":-1.0},{"x":30.6,"y":-2.5},{"x":31.8,"y":-1.3},{"x":32.7,"y":-1.0},{"x":33.6,"y":-1.9},{"x":34.8,"y":-2.4},{"x":34.2,"y":-0.4},{"x":35.5,"y":1.2},{"x":35.2,"y":-0.4},{"x":35.8,"y":-0.4},{"x":36.4,"y":-0.7},{"x":37.3,"y":-0.7},{"x":36.2,"y":0.5},{"x":37.6,"y":-2.8},{"x":40.0,"y":-0.6},{"x":44.5,"y":-0.1},{"x":46.1,"y":0.0},{"x":44.5,"y":-1.6},{"x":45.2,"y":-2.1},{"x":46.1,"y":-1.9},{"x":27.3,"y":-0.6},{"x":30.3,"y":-1.3},{"x":31.5,"y":-0.7},{"x":33.9,"y":-1.6},{"x":24.8,"y":-2.1},{"x":23.0,"y":-1.3},{"x":17.0,"y":-0.7},{"x":17.9,"y":0.8},{"x":19.4,"y":-0.1},{"x":20.9,"y":-0.7},{"x":16.0,"y":0.3},{"x":17.5,"y":-1.5},{"x":18.5,"y":-0.5},{"x":19.0,"y":1.0},{"x":16.5,"y":-1.2}]},"mark":{"type":"point","shape":"circle","filled":false,"size":44,"strokeWidth":0.9,"color":"#3a3a3a","opacity":1}}
]},
{"width":357,"height":337,
"encoding":{"x":{"field":"x","type":"quantitative","scale":{"domain":[-5.125,61.82],"nice":false,"zero":false},"axis":null},"y":{"field":"y","type":"quantitative","scale":{"domain":[-25.25,37.94],"nice":false,"zero":false},"axis":null}},
"layer":[
{"data":{"values":[{"x":0,"y":2,"x2":56.56,"y2":2.21},{"x":0,"y":-2,"x2":56.6,"y2":-1.78}]},"mark":{"type":"rule","strokeDash":[2,2.5],"strokeWidth":1.3,"color":"#111"},"encoding":{"x2":{"field":"x2"},"y2":{"field":"y2"}}},
{"data":{"values":[{"x":0,"y":-2,"x2":0,"y2":2},{"x":-0.75,"y":-2,"x2":0,"y2":-2},{"x":-0.75,"y":-1,"x2":0,"y2":-1},{"x":-0.75,"y":0,"x2":0,"y2":0},{"x":-0.75,"y":1,"x2":0,"y2":1},{"x":-0.75,"y":2,"x2":0,"y2":2},{"x":0.25,"y":-21.74,"x2":47.5,"y2":-21.74},{"x":0.25,"y":-21.74,"x2":0.25,"y2":-20.43},{"x":23.88,"y":-21.74,"x2":23.88,"y2":-20.43},{"x":47.5,"y":-21.74,"x2":47.5,"y2":-20.43}]},"mark":{"type":"rule","strokeWidth":1,"color":"#333"},"encoding":{"x2":{"field":"x2"},"y2":{"field":"y2"}}},
{"data":{"values":[{"x":0,"y":0}]},"mark":{"type":"arc","radius":302,"radius2":302,"theta":1.0378,"theta2":1.8326,"filled":false,"stroke":"#666","strokeWidth":1}},
{"data":{"values":[{"x":48.78,"y":28.77,"x2":47.51,"y2":28.02},{"x":52.04,"y":22.33,"x2":50.69,"y2":21.75},{"x":53.9,"y":17.36,"x2":52.5,"y2":16.91},{"x":55.38,"y":11.85,"x2":53.94,"y2":11.54},{"x":56.31,"y":6.03,"x2":54.85,"y2":5.87},{"x":56.63,"y":0,"x2":55.16,"y2":0},{"x":56.31,"y":-6.03,"x2":54.85,"y2":-5.87},{"x":55.38,"y":-11.85,"x2":53.94,"y2":-11.54},{"x":54.7,"y":-14.66,"x2":53.28,"y2":-14.28}]},"mark":{"type":"rule","color":"#666","strokeWidth":1},"encoding":{"x2":{"field":"x2"},"y2":{"field":"y2"}}},
{"data":{"values":[{"x":48.78,"y":28.77,"t":"15"},{"x":52.04,"y":22.33,"t":"12"},{"x":53.9,"y":17.36,"t":"10"},{"x":55.38,"y":11.85,"t":"8"},{"x":56.31,"y":6.03,"t":"6"},{"x":56.63,"y":0,"t":"4"},{"x":56.31,"y":-6.03,"t":"2"},{"x":55.38,"y":-11.85,"t":"0"},{"x":54.7,"y":-14.66,"t":"-1"}]},"mark":{"type":"text","align":"left","baseline":"middle","dx":6,"dy":-3,"font":"Liberation Sans","fontSize":12,"color":"#333"},"encoding":{"text":{"field":"t"}}},
{"data":{"values":[{"x":0.25,"y":-21.74,"t":"29"},{"x":23.88,"y":-21.74,"t":"0.8"},{"x":47.5,"y":-21.74,"t":"0.4"}]},"mark":{"type":"text","align":"left","baseline":"middle","dx":1,"dy":-10,"font":"Liberation Sans","fontSize":11,"color":"#333"},"encoding":{"text":{"field":"t"}}},
{"data":{"values":[{"x":-3.0,"y":2,"t":"2"},{"x":-3.0,"y":0,"t":"0"},{"x":-3.0,"y":-2,"t":"-2"}]},"mark":{"type":"text","align":"right","baseline":"middle","font":"Liberation Sans","fontSize":11,"color":"#333"},"encoding":{"text":{"field":"t"}}},
{"data":{"values":[{"x":21.5,"y":31.38,"t":"p=0.5, Ng=10"},{"x":24.93,"y":27.44,"t":"CAM De=4.07±0.099 Gy"}]},"mark":{"type":"text","font":"Liberation Serif","fontSize":19,"align":"center","baseline":"middle","color":"#111"},"encoding":{"text":{"field":"t"}}},
{"data":{"values":[{"x":-3.62,"y":31.38,"t":"E"}]},"mark":{"type":"text","font":"Liberation Sans","fontWeight":"bold","fontSize":19,"align":"center","baseline":"middle","color":"#000"},"encoding":{"text":{"field":"t"}}},
{"data":{"values":[{"x":0.5,"y":-0.4},{"x":0.85,"y":0.6},{"x":0.25,"y":1.6},{"x":0.7,"y":2.6},{"x":1.5,"y":-0.9},{"x":1.85,"y":0.1},{"x":1.25,"y":1.1},{"x":1.7,"y":2.1},{"x":1.35,"y":3.1},{"x":2.5,"y":-1.3},{"x":2.85,"y":-0.3},{"x":2.25,"y":0.7},{"x":2.7,"y":1.7},{"x":2.35,"y":2.7},{"x":2.8,"y":3.7},{"x":3.5,"y":-1.6},{"x":3.85,"y":-0.6},{"x":3.25,"y":0.4},{"x":3.7,"y":1.4},{"x":3.35,"y":2.4},{"x":3.8,"y":3.4},{"x":3.2,"y":4.2},{"x":4.5,"y":-1.9},{"x":4.85,"y":-0.9},{"x":4.25,"y":0.1},{"x":4.7,"y":1.1},{"x":4.35,"y":2.1},{"x":4.8,"y":3.1},{"x":4.2,"y":4.0},{"x":5.5,"y":-2.1},{"x":5.85,"y":-1.1},{"x":5.25,"y":-0.1},{"x":5.7,"y":0.9},{"x":5.35,"y":1.9},{"x":5.8,"y":2.9},{"x":5.2,"y":3.8},{"x":6.5,"y":-2.3},{"x":6.85,"y":-1.3},{"x":6.25,"y":-0.3},{"x":6.7,"y":0.7},{"x":6.35,"y":1.7},{"x":6.8,"y":2.7},{"x":6.2,"y":3.6},{"x":7.5,"y":-2.6},{"x":7.85,"y":-1.6},{"x":7.25,"y":-0.6},{"x":7.7,"y":0.4},{"x":7.35,"y":1.4},{"x":7.8,"y":2.4},{"x":7.2,"y":3.3},{"x":8.5,"y":-3.0},{"x":8.85,"y":-2.0},{"x":8.25,"y":-1.0},{"x":8.7,"y":0.0},{"x":8.35,"y":1.0},{"x":8.8,"y":2.0},{"x":8.2,"y":3.0},{"x":9.5,"y":-3.3},{"x":9.85,"y":-2.3},{"x":9.25,"y":-1.3},{"x":9.7,"y":-0.3},{"x":9.35,"y":0.7},{"x":9.8,"y":1.7},{"x":9.2,"y":2.7},{"x":10.5,"y":-3.6},{"x":10.85,"y":-2.6},{"x":10.25,"y":-1.6},{"x":10.7,"y":-0.6},{"x":10.35,"y":0.4},{"x":10.8,"y":1.4},{"x":10.2,"y":2.4},{"x":11.5,"y":-3.9},{"x":11.85,"y":-2.9},{"x":11.25,"y":-1.9},{"x":11.7,"y":-0.9},{"x":11.35,"y":0.1},{"x":11.8,"y":1.1},{"x":11.2,"y":2.2},{"x":12.5,"y":-4.1},{"x":12.85,"y":-3.1},{"x":12.25,"y":-2.1},{"x":12.7,"y":-1.1},{"x":12.35,"y":-0.1},{"x":12.8,"y":0.9},{"x":12.2,"y":1.9},{"x":13.5,"y":-4.3},{"x":13.85,"y":-3.3},{"x":13.25,"y":-2.3},{"x":13.7,"y":-1.3},{"x":13.35,"y":-0.3},{"x":13.8,"y":0.7},{"x":13.2,"y":1.6},{"x":14.5,"y":-4.4},{"x":14.85,"y":-3.4},{"x":14.25,"y":-2.4},{"x":14.7,"y":-1.4},{"x":14.35,"y":-0.4},{"x":14.8,"y":0.6},{"x":14.2,"y":1.3},{"x":15.5,"y":-4.6},{"x":15.85,"y":-3.6},{"x":15.25,"y":-2.6},{"x":15.7,"y":-1.6},{"x":15.35,"y":-0.6},{"x":15.8,"y":0.4},{"x":16.5,"y":-4.8},{"x":16.85,"y":-3.8},{"x":16.25,"y":-2.8},{"x":16.7,"y":-1.8},{"x":16.35,"y":-0.8},{"x":16.8,"y":0.3},{"x":17.5,"y":-4.9},{"x":17.85,"y":-3.9},{"x":17.25,"y":-2.9},{"x":17.7,"y":-1.9},{"x":17.35,"y":-0.9},{"x":17.8,"y":0.0},{"x":18.5,"y":-5.0},{"x":18.85,"y":-4.0},{"x":18.25,"y":-3.0},{"x":18.7,"y":-2.0},{"x":18.35,"y":-1.0},{"x":19.5,"y":-5.2},{"x":19.85,"y":-4.2},{"x":19.25,"y":-3.2},{"x":19.7,"y":-2.2},{"x":19.35,"y":-1.3},{"x":20.5,"y":-5.0},{"x":20.85,"y":-4.0},{"x":20.25,"y":-3.0},{"x":20.7,"y":-2.0},{"x":21.5,"y":-5.3},{"x":21.85,"y":-4.3},{"x":21.25,"y":-3.3},{"x":21.7,"y":-2.4},{"x":21.35,"y":-1.5},{"x":22.5,"y":-5.0},{"x":22.85,"y":-4.1},{"x":22.25,"y":-3.1},{"x":22.7,"y":-2.2},{"x":23.5,"y":-4.7},{"x":23.85,"y":-3.8},{"x":23.25,"y":-2.9},{"x":23.9,"y":-1.3},{"x":24.5,"y":-4.5},{"x":24.85,"y":-3.6},{"x":24.25,"y":-2.7},{"x":25.5,"y":-4.9},{"x":25.85,"y":-4.0},{"x":17.6,"y":-6.1},{"x":21.4,"y":-5.8},{"x":23.25,"y":-5.4},{"x":26.7,"y":-5.5},{"x":28.25,"y":-4.25},{"x":28.6,"y":-5.5},{"x":29.2,"y":-6.4},{"x":30.1,"y":-3.9},{"x":30.75,"y":-6.0},{"x":31.4,"y":-4.9},{"x":33.25,"y":-5.1},{"x":34.8,"y":-4.7},{"x":35.75,"y":-6.1},{"x":36.1,"y":-7.1},{"x":37.3,"y":-7.25},{"x":37.0,"y":-6.3},{"x":34.8,"y":-8.0},{"x":39.2,"y":-8.1},{"x":40.0,"y":-8.1},{"x":40.75,"y":-7.4},{"x":45.0,"y":-7.7},{"x":47.6,"y":-9.6},{"x":31.4,"y":-6.1},{"x":29.5,"y":-4.9},{"x":27.0,"y":-4.25},{"x":25.75,"y":-5.6}]},"mark":{"type":"point","shape":"circle","filled":false,"size":44,"strokeWidth":0.9,"color":"#3a3a3a","opacity":1}}
]},
{"width":358,"height":337,
"encoding":{"x":{"field":"x","type":"quantitative","scale":{"domain":[-1.694,28.139],"nice":false,"zero":false},"axis":null},"y":{"field":"y","type":"quantitative","scale":{"domain":[-13.72,14.36],"nice":false,"zero":false},"axis":null}},
"layer":[
{"data":{"values":[{"x":0,"y":2,"x2":25.28,"y2":2},{"x":0,"y":-2,"x2":25.28,"y2":-2}]},"mark":{"type":"rule","strokeDash":[2,2.5],"strokeWidth":1.3,"color":"#111"},"encoding":{"x2":{"field":"x2"},"y2":{"field":"y2"}}},
{"data":{"values":[{"x":0,"y":-2,"x2":0,"y2":2},{"x":-0.33,"y":-2,"x2":0,"y2":-2},{"x":-0.33,"y":-1,"x2":0,"y2":-1},{"x":-0.33,"y":0,"x2":0,"y2":0},{"x":-0.33,"y":1,"x2":0,"y2":1},{"x":-0.33,"y":2,"x2":0,"y2":2},{"x":0,"y":-12.16,"x2":21.19,"y2":-12.16},{"x":0,"y":-12.16,"x2":0,"y2":-11.58},{"x":8.83,"y":-12.16,"x2":8.83,"y2":-11.58},{"x":15.0,"y":-12.16,"x2":15.0,"y2":-11.58},{"x":21.19,"y":-12.16,"x2":21.19,"y2":-11.58}]},"mark":{"type":"rule","strokeWidth":1,"color":"#333"},"encoding":{"x2":{"field":"x2"},"y2":{"field":"y2"}}},
{"data":{"values":[{"x":0,"y":0}]},"mark":{"type":"arc","radius":304.3,"radius2":304.3,"theta":1.143,"theta2":1.9391,"filled":false,"stroke":"#666","strokeWidth":1}},
{"data":{"values":[{"x":23.07,"y":10.52,"x2":22.47,"y2":10.25},{"x":24.98,"y":4.37,"x2":24.33,"y2":4.26},{"x":25.34,"y":0.89,"x2":24.68,"y2":0.87},{"x":25.22,"y":-2.65,"x2":24.56,"y2":-2.58},{"x":24.63,"y":-6.05,"x2":23.99,"y2":-5.89},{"x":23.66,"y":-9.13,"x2":23.04,"y2":-8.89}]},"mark":{"type":"rule","color":"#666","strokeWidth":1},"encoding":{"x2":{"field":"x2"},"y2":{"field":"y2"}}},
{"data":{"values":[{"x":23.07,"y":10.52,"t":"8"},{"x":24.98,"y":4.37,"t":"6"},{"x":25.34,"y":0.89,"t":"5"},{"x":25.22,"y":-2.65,"t":"4"},{"x":24.63,"y":-6.05,"t":"3"},{"x":23.66,"y":-9.13,"t":"2"}]},"mark":{"type":"text","align":"left","baseline":"middle","dx":6,"dy":-3,"font":"Liberation Sans","fontSize":12,"color":"#333"},"encoding":{"text":{"field":"t"}}},
{"data":{"values":[{"x":8.83,"y":-12.16,"t":"0.8"},{"x":15.0,"y":-12.16,"t":"0.5"},{"x":21.19,"y":-12.16,"t":"0.3"}]},"mark":{"type":"text","align":"left","baseline":"middle","dx":1,"dy":-10,"font":"Liberation Sans","fontSize":11,"color":"#333"},"encoding":{"text":{"field":"t"}}},
{"data":{"values":[{"x":-1.33,"y":2,"t":"2"},{"x":-1.33,"y":0,"t":"0"},{"x":-1.33,"y":-2,"t":"-2"}]},"mark":{"type":"text","align":"right","baseline":"middle","font":"Liberation Sans","fontSize":11,"color":"#333"},"encoding":{"text":{"field":"t"}}},
{"data":{"values":[{"x":9.45,"y":11.44,"t":"p=0.5, Ng=200"},{"x":10.78,"y":9.69,"t":"CAM De=4.76±0.029 Gy"}]},"mark":{"type":"text","font":"Liberation Serif","fontSize":19,"align":"center","baseline":"middle","color":"#111"},"encoding":{"text":{"field":"t"}}},
{"data":{"values":[{"x":-0.84,"y":11.44,"t":"F"}]},"mark":{"type":"text","font":"Liberation Sans","fontWeight":"bold","fontSize":19,"align":"center","baseline":"middle","color":"#000"},"encoding":{"text":{"field":"t"}}},
{"data":{"values":[{"x":27.45,"y":3.11,"t":"Simulated De  (Gy)"}]},"mark":{"type":"text","angle":90,"font":"Liberation Serif","fontSize":15,"align":"center","baseline":"middle","color":"#222"},"encoding":{"text":{"field":"t"}}},
{"data":{"values":[{"x":9.1,"y":2.5},{"x":8.95,"y":3.2},{"x":9.15,"y":3.9},{"x":9.5,"y":1.8},{"x":9.65,"y":2.5},{"x":9.4,"y":3.2},{"x":9.6,"y":3.9},{"x":10.1,"y":1.7},{"x":9.95,"y":2.4},{"x":10.15,"y":3.1},{"x":10.5,"y":1.0},{"x":10.65,"y":1.7},{"x":10.4,"y":2.4},{"x":10.6,"y":3.1},{"x":11.1,"y":0.9},{"x":10.95,"y":1.6},{"x":11.15,"y":2.3},{"x":11.5,"y":0.2},{"x":11.65,"y":0.9},{"x":11.4,"y":1.6},{"x":11.6,"y":2.3},{"x":12.1,"y":0.1},{"x":11.95,"y":0.8},{"x":12.15,"y":1.5},{"x":12.5,"y":-0.6},{"x":12.65,"y":0.1},{"x":12.4,"y":0.8},{"x":12.6,"y":1.5},{"x":13.1,"y":-0.7},{"x":12.95,"y":0.0},{"x":13.15,"y":0.7},{"x":13.5,"y":-1.4},{"x":13.65,"y":-0.7},{"x":13.4,"y":0.0},{"x":13.6,"y":0.7},{"x":14.1,"y":-1.5},{"x":13.95,"y":-0.8},{"x":14.15,"y":-0.1},{"x":14.5,"y":-2.2},{"x":14.65,"y":-1.5},{"x":14.4,"y":-0.8},{"x":14.6,"y":-0.1},{"x":15.1,"y":-2.3},{"x":14.95,"y":-1.6},{"x":15.15,"y":-0.9},{"x":15.5,"y":-3.0},{"x":15.65,"y":-2.3},{"x":15.4,"y":-1.6},{"x":15.6,"y":-0.9},{"x":16.1,"y":-3.1},{"x":15.95,"y":-2.4},{"x":16.15,"y":-1.7},{"x":16.5,"y":-3.8},{"x":16.65,"y":-3.1},{"x":16.4,"y":-2.4},{"x":16.6,"y":-1.7},{"x":17.1,"y":-3.9},{"x":16.95,"y":-3.2},{"x":17.15,"y":-2.5},{"x":17.5,"y":-4.6},{"x":17.65,"y":-3.9},{"x":17.4,"y":-3.2},{"x":17.6,"y":-2.5},{"x":18.1,"y":-4.7},{"x":17.95,"y":-4.0},{"x":18.15,"y":-3.3},{"x":18.5,"y":-5.2},{"x":18.65,"y":-4.7},{"x":18.4,"y":-4.0},{"x":18.6,"y":-3.3},{"x":19.1,"y":-5.3},{"x":18.95,"y":-4.8},{"x":19.15,"y":-4.1},{"x":8.83,"y":3.94},{"x":9.4,"y":4.1},{"x":10.1,"y":3.7},{"x":9.25,"y":0.6},{"x":9.8,"y":0.05},{"x":11.6,"y":-0.65},{"x":12.2,"y":-1.9},{"x":13.6,"y":-1.8},{"x":14.25,"y":-2.9},{"x":14.9,"y":-3.1},{"x":18.3,"y":-5.4},{"x":19.25,"y":-5.3},{"x":19.9,"y":-5.3},{"x":19.8,"y":-4.9},{"x":20.6,"y":-6.55},{"x":21.2,"y":-6.9},{"x":10.3,"y":0.3},{"x":11.0,"y":-0.2},{"x":9.9,"y":2.9},{"x":10.8,"y":2.0},{"x":11.8,"y":1.2},{"x":12.8,"y":0.4},{"x":13.8,"y":-0.4},{"x":14.8,"y":-1.2},{"x":15.8,"y":-2.0},{"x":16.8,"y":-2.8},{"x":17.8,"y":-3.6},{"x":10.3,"y":1.3},{"x":12.3,"y":-0.3},{"x":14.3,"y":-2.0},{"x":16.3,"y":-3.5},{"x":18.0,"y":-4.4},{"x":9.25,"y":2.35},{"x":9.25,"y":3.05},{"x":9.25,"y":3.75},{"x":9.75,"y":1.95},{"x":9.75,"y":2.65},{"x":9.75,"y":3.35},{"x":10.25,"y":1.55},{"x":10.25,"y":2.25},{"x":10.25,"y":2.95},{"x":10.75,"y":1.15},{"x":10.75,"y":1.85},{"x":10.75,"y":2.55},{"x":11.25,"y":0.75},{"x":11.25,"y":1.45},{"x":11.25,"y":2.15},{"x":11.75,"y":0.35},{"x":11.75,"y":1.05},{"x":11.75,"y":1.75},{"x":12.25,"y":-0.05},{"x":12.25,"y":0.65},{"x":12.25,"y":1.35},{"x":12.75,"y":-0.45},{"x":12.75,"y":0.25},{"x":12.75,"y":0.95},{"x":13.25,"y":-0.85},{"x":13.25,"y":-0.15},{"x":13.25,"y":0.55},{"x":13.75,"y":-1.25},{"x":13.75,"y":-0.55},{"x":13.75,"y":0.15},{"x":14.25,"y":-1.65},{"x":14.25,"y":-0.95},{"x":14.25,"y":-0.25},{"x":14.75,"y":-2.05},{"x":14.75,"y":-1.35},{"x":14.75,"y":-0.65},{"x":15.25,"y":-2.45},{"x":15.25,"y":-1.75},{"x":15.25,"y":-1.05},{"x":15.75,"y":-2.85},{"x":15.75,"y":-2.15},{"x":15.75,"y":-1.45},{"x":16.25,"y":-3.25},{"x":16.25,"y":-2.55},{"x":16.25,"y":-1.85},{"x":16.75,"y":-3.65},{"x":16.75,"y":-2.95},{"x":16.75,"y":-2.25},{"x":17.25,"y":-4.05},{"x":17.25,"y":-3.35},{"x":17.25,"y":-2.65},{"x":17.75,"y":-4.45},{"x":17.75,"y":-3.75},{"x":17.75,"y":-3.05},{"x":18.25,"y":-4.85},{"x":18.25,"y":-4.15},{"x":18.25,"y":-3.45},{"x":18.75,"y":-5.25},{"x":18.75,"y":-4.55},{"x":18.75,"y":-3.85}]},"mark":{"type":"point","shape":"circle","filled":false,"size":44,"strokeWidth":0.9,"color":"#3a3a3a","opacity":1}}
]}
],"spacing":0,"bounds":"flush"},
{"hconcat":[
{"width":357,"height":335,
"encoding":{"x":{"field":"x","type":"quantitative","scale":{"domain":[-7.546,73.28],"nice":false,"zero":false},"axis":null},"y":{"field":"y","type":"quantitative","scale":{"domain":[-18.38,57.47],"nice":false,"zero":false},"axis":null}},
"layer":[
{"data":{"values":[{"x":0,"y":2,"x2":68.42,"y2":2},{"x":0,"y":-2,"x2":68.42,"y2":-2}]},"mark":{"type":"rule","strokeDash":[2,2.5],"strokeWidth":1.3,"color":"#111"},"encoding":{"x2":{"field":"x2"},"y2":{"field":"y2"}}},
{"data":{"values":[{"x":0,"y":-2,"x2":0,"y2":2},{"x":-0.91,"y":-2,"x2":0,"y2":-2},{"x":-0.91,"y":-1,"x2":0,"y2":-1},{"x":-0.91,"y":0,"x2":0,"y2":0},{"x":-0.91,"y":1,"x2":0,"y2":1},{"x":-0.91,"y":2,"x2":0,"y2":2},{"x":0.23,"y":-14.98,"x2":57.74,"y2":-14.98},{"x":28.83,"y":-14.98,"x2":28.83,"y2":-13.4},{"x":57.74,"y":-14.98,"x2":57.74,"y2":-13.4}]},"mark":{"type":"rule","strokeWidth":1,"color":"#333"},"encoding":{"x2":{"field":"x2"},"y2":{"field":"y2"}}},
{"data":{"values":[{"x":0,"y":0}]},"mark":{"type":"arc","radius":302.3,"radius2":302.3,"theta":0.9114,"theta2":1.6437,"filled":false,"stroke":"#666","strokeWidth":1}},
{"data":{"values":[{"x":54.1,"y":41.93,"x2":52.69,"y2":40.84},{"x":58.28,"y":35.9,"x2":56.76,"y2":34.97},{"x":60.98,"y":31.1,"x2":59.39,"y2":30.29},{"x":63.47,"y":25.64,"x2":61.82,"y2":24.97},{"x":65.6,"y":19.55,"x2":63.89,"y2":19.04},{"x":67.22,"y":12.9,"x2":65.47,"y2":12.56},{"x":68.2,"y":5.87,"x2":66.43,"y2":5.72},{"x":68.44,"y":-1.37,"x2":66.66,"y2":-1.33},{"x":68.27,"y":-4.98,"x2":66.49,"y2":-4.85}]},"mark":{"type":"rule","color":"#666","strokeWidth":1},"encoding":{"x2":{"field":"x2"},"y2":{"field":"y2"}}},
{"data":{"values":[{"x":54.1,"y":41.93,"t":"15"},{"x":58.28,"y":35.9,"t":"12"},{"x":60.98,"y":31.1,"t":"10"},{"x":63.47,"y":25.64,"t":"8"},{"x":65.6,"y":19.55,"t":"6"},{"x":67.22,"y":12.9,"t":"4"},{"x":68.2,"y":5.87,"t":"2"},{"x":68.44,"y":-1.37,"t":"0"},{"x":68.27,"y":-4.98,"t":"-1"}]},"mark":{"type":"text","align":"left","baseline":"middle","dx":6,"dy":-3,"font":"Liberation Sans","fontSize":12,"color":"#333"},"encoding":{"text":{"field":"t"}}},
{"data":{"values":[{"x":0.23,"y":-14.98,"t":"101"},{"x":28.83,"y":-14.98,"t":"0.6"},{"x":57.74,"y":-14.98,"t":"0.3"}]},"mark":{"type":"text","align":"left","baseline":"middle","dx":1,"dy":-10,"font":"Liberation Sans","fontSize":11,"color":"#333"},"encoding":{"text":{"field":"t"}}},
{"data":{"values":[{"x":-4.08,"y":2,"t":"2"},{"x":-4.08,"y":0,"t":"0"},{"x":-4.08,"y":-2,"t":"-2"}]},"mark":{"type":"text","angle":90,"align":"center","baseline":"middle","font":"Liberation Sans","fontSize":11,"color":"#333"},"encoding":{"text":{"field":"t"}}},
{"data":{"values":[{"x":25.67,"y":44.56,"t":"p=0.95, Ng=1"},{"x":30.56,"y":39.92,"t":"CAM De=0.34±0.081 Gy"}]},"mark":{"type":"text","font":"Liberation Serif","fontSize":19,"align":"center","baseline":"middle","color":"#111"},"encoding":{"text":{"field":"t"}}},
{"data":{"values":[{"x":-3.63,"y":43.88,"t":"G"}]},"mark":{"type":"text","font":"Liberation Sans","fontWeight":"bold","fontSize":19,"align":"center","baseline":"middle","color":"#000"},"encoding":{"text":{"field":"t"}}},
{"data":{"values":[{"x":-5.44,"y":1.61,"t":"Standardised Estimate"}]},"mark":{"type":"text","angle":90,"font":"Liberation Serif","fontSize":15,"align":"center","baseline":"middle","color":"#222"},"encoding":{"text":{"field":"t"}}},
{"data":{"values":[{"x":29.36,"y":-16.86,"t":"Standard error"}]},"mark":{"type":"text","font":"Liberation Serif","fontSize":15,"align":"center","baseline":"middle","color":"#222"},"encoding":{"text":{"field":"t"}}},
{"data":{"values":[{"x":0.4,"y":-1.6},{"x":0.75,"y":-0.6},{"x":0.15,"y":0.4},{"x":0.6,"y":1.4},{"x":1.2,"y":-2.0},{"x":1.55,"y":-1.0},{"x":0.95,"y":0.0},{"x":1.4,"y":1.0},{"x":1.05,"y":2.0},{"x":2.0,"y":-1.4},{"x":2.35,"y":-0.4},{"x":1.75,"y":0.6},{"x":2.2,"y":1.6},{"x":2.8,"y":-1.8},{"x":3.15,"y":-0.8},{"x":2.55,"y":0.2},{"x":3.0,"y":1.2},{"x":2.65,"y":2.1},{"x":3.6,"y":-1.3},{"x":3.95,"y":-0.3},{"x":3.35,"y":0.7},{"x":3.8,"y":1.7},{"x":4.5,"y":-1.9},{"x":4.85,"y":-0.9},{"x":4.25,"y":0.1},{"x":4.7,"y":1.1},{"x":4.35,"y":2.0},{"x":5.4,"y":-1.4},{"x":5.75,"y":-0.4},{"x":5.15,"y":0.6},{"x":5.6,"y":1.6},{"x":6.3,"y":-1.8},{"x":6.65,"y":-0.8},{"x":6.05,"y":0.2},{"x":6.5,"y":1.2},{"x":7.2,"y":-1.3},{"x":7.55,"y":-0.3},{"x":6.95,"y":0.7},{"x":7.4,"y":1.7},{"x":8.1,"y":-1.9},{"x":8.45,"y":-0.9},{"x":7.85,"y":0.1},{"x":8.3,"y":1.1},{"x":7.95,"y":2.0},{"x":9.0,"y":-1.4},{"x":9.35,"y":-0.4},{"x":8.75,"y":0.6},{"x":9.2,"y":1.5},{"x":9.9,"y":-1.8},{"x":10.25,"y":-0.8},{"x":9.65,"y":0.2},{"x":10.1,"y":1.2},{"x":10.9,"y":-1.3},{"x":11.25,"y":-0.3},{"x":10.65,"y":0.7},{"x":11.1,"y":1.8},{"x":11.9,"y":-1.7},{"x":12.25,"y":-0.7},{"x":11.65,"y":0.3},{"x":12.1,"y":1.3},{"x":12.9,"y":-1.2},{"x":13.25,"y":-0.2},{"x":12.65,"y":0.8},{"x":13.9,"y":-1.6},{"x":14.25,"y":-0.6},{"x":13.65,"y":0.4},{"x":14.1,"y":1.5},{"x":15.0,"y":-1.1},{"x":15.35,"y":-0.1},{"x":14.75,"y":0.9},{"x":16.2,"y":-1.5},{"x":16.55,"y":-0.5},{"x":15.95,"y":0.6},{"x":0.3,"y":-0.9},{"x":0.9,"y":0.9},{"x":1.8,"y":-0.5},{"x":2.4,"y":1.0},{"x":3.2,"y":-0.6},{"x":4.0,"y":0.4},{"x":5.0,"y":-0.8},{"x":5.9,"y":0.9},{"x":6.8,"y":-0.4},{"x":1.9,"y":2.75},{"x":8.7,"y":-3.7},{"x":16.6,"y":-2.4},{"x":18.5,"y":0.1},{"x":19.6,"y":0.9},{"x":20.0,"y":-2.9},{"x":20.75,"y":-1.0},{"x":21.9,"y":0.5},{"x":23.4,"y":0.9},{"x":24.5,"y":-0.1},{"x":24.9,"y":-1.4},{"x":26.0,"y":0.1},{"x":26.4,"y":0.5},{"x":27.2,"y":-1.4},{"x":23.0,"y":-1.4},{"x":21.5,"y":-0.4},{"x":30.6,"y":-1.25},{"x":31.7,"y":-0.9},{"x":34.5,"y":-0.1},{"x":57.4,"y":-1.0},{"x":18.1,"y":-1.4},{"x":15.1,"y":0.5},{"x":19.2,"y":-1.4}]},"mark":{"type":"point","shape":"circle","filled":false,"size":44,"strokeWidth":0.9,"color":"#3a3a3a","opacity":1}}
]},
{"width":357,"height":335,
"encoding":{"x":{"field":"x","type":"quantitative","scale":{"domain":[-5.206,62.79],"nice":false,"zero":false},"axis":null},"y":{"field":"y","type":"quantitative","scale":{"domain":[-17.4,46.41],"nice":false,"zero":false},"axis":null}},
"layer":[
{"data":{"values":[{"x":0,"y":2,"x2":57.49,"y2":2},{"x":0,"y":-2,"x2":57.49,"y2":-2}]},"mark":{"type":"rule","strokeDash":[2,2.5],"strokeWidth":1.3,"color":"#111"},"encoding":{"x2":{"field":"x2"},"y2":{"field":"y2"}}},
{"data":{"values":[{"x":0,"y":-2,"x2":0,"y2":2},{"x":-0.76,"y":-2,"x2":0,"y2":-2},{"x":-0.76,"y":-1,"x2":0,"y2":-1},{"x":-0.76,"y":0,"x2":0,"y2":0},{"x":-0.76,"y":1,"x2":0,"y2":1},{"x":-0.76,"y":2,"x2":0,"y2":2},{"x":0.25,"y":-14.54,"x2":48.38,"y2":-14.54},{"x":0.25,"y":-14.54,"x2":0.25,"y2":-13.21},{"x":24.25,"y":-14.54,"x2":24.25,"y2":-13.21},{"x":48.38,"y":-14.54,"x2":48.38,"y2":-13.21}]},"mark":{"type":"rule","strokeWidth":1,"color":"#333"},"encoding":{"x2":{"field":"x2"},"y2":{"field":"y2"}}},
{"data":{"values":[{"x":0,"y":0}]},"mark":{"type":"arc","radius":302,"radius2":302,"theta":0.9331,"theta2":1.6853,"filled":false,"stroke":"#666","strokeWidth":1}},
{"data":{"values":[{"x":46.22,"y":34.25,"x2":45.02,"y2":33.36},{"x":53.07,"y":22.19,"x2":51.69,"y2":21.61},{"x":55.59,"y":14.79,"x2":54.14,"y2":14.41},{"x":57.14,"y":6.57,"x2":55.65,"y2":6.4},{"x":57.49,"y":-2.07,"x2":56.0,"y2":-2.02},{"x":57.14,"y":-6.57,"x2":55.65,"y2":-6.4}]},"mark":{"type":"rule","color":"#666","strokeWidth":1},"encoding":{"x2":{"field":"x2"},"y2":{"field":"y2"}}},
{"data":{"values":[{"x":46.22,"y":34.25,"t":"10"},{"x":53.07,"y":22.19,"t":"6"},{"x":55.59,"y":14.79,"t":"4"},{"x":57.14,"y":6.57,"t":"2"},{"x":57.49,"y":-2.07,"t":"0"},{"x":57.14,"y":-6.57,"t":"-1"}]},"mark":{"type":"text","align":"left","baseline":"middle","dx":6,"dy":-3,"font":"Liberation Sans","fontSize":12,"color":"#333"},"encoding":{"text":{"field":"t"}}},
{"data":{"values":[{"x":0.25,"y":-14.54,"t":"32"},{"x":24.25,"y":-14.54,"t":"0.6"},{"x":48.38,"y":-14.54,"t":"0.3"}]},"mark":{"type":"text","align":"left","baseline":"middle","dx":1,"dy":-10,"font":"Liberation Sans","fontSize":11,"color":"#333"},"encoding":{"text":{"field":"t"}}},
{"data":{"values":[{"x":-3.05,"y":2,"t":"2"},{"x":-3.05,"y":0,"t":"0"},{"x":-3.05,"y":-2,"t":"-2"}]},"mark":{"type":"text","align":"right","baseline":"middle","font":"Liberation Sans","fontSize":11,"color":"#333"},"encoding":{"text":{"field":"t"}}},
{"data":{"values":[{"x":22.98,"y":35.56,"t":"p=0.95, Ng=10"},{"x":25.33,"y":31.65,"t":"CAM De=0.36±0.029 Gy"}]},"mark":{"type":"text","font":"Liberation Serif","fontSize":19,"align":"center","baseline":"middle","color":"#111"},"encoding":{"text":{"field":"t"}}},
{"data":{"values":[{"x":-3.68,"y":34.98,"t":"H"}]},"mark":{"type":"text","font":"Liberation Sans","fontWeight":"bold","fontSize":19,"align":"center","baseline":"middle","color":"#000"},"encoding":{"text":{"field":"t"}}},
{"data":{"values":[{"x":25.46,"y":-16.12,"t":"Standard error"}]},"mark":{"type":"text","font":"Liberation Serif","fontSize":15,"align":"center","baseline":"middle","color":"#222"},"encoding":{"text":{"field":"t"}}},
{"data":{"values":[{"x":0.5,"y":-0.6},{"x":0.85,"y":0.4},{"x":0.25,"y":1.4},{"x":1.5,"y":-1.2},{"x":1.85,"y":-0.2},{"x":1.25,"y":0.8},{"x":1.7,"y":1.8},{"x":1.35,"y":2.8},{"x":2.5,"y":-1.6},{"x":2.85,"y":-0.6},{"x":2.25,"y":0.4},{"x":2.7,"y":1.4},{"x":2.35,"y":2.4},{"x":2.8,"y":3.4},{"x":3.5,"y":-2.0},{"x":3.85,"y":-1.0},{"x":3.25,"y":0.0},{"x":3.7,"y":1.0},{"x":3.35,"y":2.0},{"x":3.8,"y":3.0},{"x":3.2,"y":4.0},{"x":4.5,"y":-1.4},{"x":4.85,"y":-0.4},{"x":4.25,"y":0.6},{"x":4.7,"y":1.6},{"x":4.35,"y":2.6},{"x":4.8,"y":3.6},{"x":5.5,"y":-2.2},{"x":5.85,"y":-1.2},{"x":5.25,"y":-0.2},{"x":5.7,"y":0.8},{"x":5.35,"y":1.8},{"x":5.8,"y":2.8},{"x":5.2,"y":4.2},{"x":6.5,"y":-1.6},{"x":6.85,"y":-0.6},{"x":6.25,"y":0.4},{"x":6.7,"y":1.4},{"x":6.35,"y":2.4},{"x":6.8,"y":3.4},{"x":7.5,"y":-2.4},{"x":7.85,"y":-1.4},{"x":7.25,"y":-0.4},{"x":7.7,"y":0.6},{"x":7.35,"y":1.6},{"x":7.8,"y":2.6},{"x":7.2,"y":5.2},{"x":8.5,"y":-1.8},{"x":8.85,"y":-0.8},{"x":8.25,"y":0.2},{"x":8.7,"y":1.2},{"x":8.35,"y":2.2},{"x":8.8,"y":3.2},{"x":8.2,"y":4.4},{"x":9.5,"y":-3.3},{"x":9.85,"y":-2.2},{"x":9.25,"y":-1.2},{"x":9.7,"y":-0.2},{"x":9.35,"y":0.8},{"x":9.8,"y":1.8},{"x":9.2,"y":2.8},{"x":10.5,"y":-1.7},{"x":10.85,"y":-0.7},{"x":10.25,"y":0.3},{"x":10.7,"y":1.3},{"x":10.35,"y":2.3},{"x":10.8,"y":3.4},{"x":11.5,"y":-2.6},{"x":11.85,"y":-1.6},{"x":11.25,"y":-0.6},{"x":11.7,"y":0.4},{"x":11.35,"y":1.4},{"x":11.8,"y":2.4},{"x":12.5,"y":-3.0},{"x":12.85,"y":-2.0},{"x":12.25,"y":-1.0},{"x":12.7,"y":0.0},{"x":12.35,"y":1.0},{"x":12.8,"y":2.0},{"x":12.2,"y":3.2},{"x":12.6,"y":4.7},{"x":13.5,"y":-2.4},{"x":13.85,"y":-1.4},{"x":13.25,"y":-0.4},{"x":13.7,"y":0.6},{"x":13.35,"y":1.6},{"x":13.8,"y":2.6},{"x":14.5,"y":-3.6},{"x":14.85,"y":-1.9},{"x":14.25,"y":-0.9},{"x":14.7,"y":0.1},{"x":14.35,"y":1.1},{"x":14.8,"y":2.1},{"x":14.2,"y":3.1},{"x":15.5,"y":-2.6},{"x":15.85,"y":-1.6},{"x":15.25,"y":-0.6},{"x":15.7,"y":0.4},{"x":15.35,"y":1.4},{"x":15.8,"y":2.4},{"x":16.5,"y":-2.1},{"x":16.85,"y":-1.1},{"x":16.25,"y":-0.1},{"x":16.7,"y":0.9},{"x":16.35,"y":1.9},{"x":16.8,"y":2.9},{"x":17.0,"y":6.4},{"x":17.5,"y":-2.9},{"x":17.85,"y":-1.6},{"x":17.25,"y":-0.6},{"x":17.7,"y":0.4},{"x":17.35,"y":1.4},{"x":17.8,"y":2.3},{"x":18.5,"y":-2.3},{"x":18.85,"y":-1.3},{"x":18.25,"y":-0.3},{"x":18.7,"y":0.7},{"x":18.35,"y":1.7},{"x":19.5,"y":-3.5},{"x":19.85,"y":-1.8},{"x":19.25,"y":-0.8},{"x":19.7,"y":0.2},{"x":19.35,"y":1.2},{"x":19.8,"y":2.2},{"x":19.2,"y":3.2},{"x":20.5,"y":-2.6},{"x":20.85,"y":-1.5},{"x":20.25,"y":-0.5},{"x":20.7,"y":0.5},{"x":20.35,"y":1.5},{"x":21.5,"y":-2.0},{"x":21.85,"y":-1.0},{"x":21.25,"y":0.0},{"x":21.7,"y":1.0},{"x":21.35,"y":2.0},{"x":21.1,"y":3.6},{"x":22.5,"y":-3.3},{"x":22.85,"y":-1.6},{"x":22.25,"y":-0.6},{"x":22.7,"y":0.4},{"x":22.35,"y":1.4},{"x":23.5,"y":-2.3},{"x":23.85,"y":-1.1},{"x":23.25,"y":-0.1},{"x":23.7,"y":0.9},{"x":23.35,"y":2.3},{"x":24.5,"y":-3.1},{"x":24.85,"y":-1.7},{"x":24.25,"y":-0.7},{"x":24.7,"y":0.3},{"x":24.35,"y":1.3},{"x":25.5,"y":-2.2},{"x":25.85,"y":-1.2},{"x":25.25,"y":-0.2},{"x":25.7,"y":0.8},{"x":25.5,"y":2.7},{"x":26.5,"y":-3.1},{"x":26.85,"y":-1.6},{"x":26.25,"y":-0.6},{"x":26.7,"y":0.4},{"x":27.5,"y":-2.2},{"x":27.85,"y":-1.1},{"x":27.25,"y":-0.1},{"x":27.7,"y":1.5},{"x":28.5,"y":-3.0},{"x":28.85,"y":-1.6},{"x":28.25,"y":-0.6},{"x":28.7,"y":0.5},{"x":29.5,"y":-2.1},{"x":29.85,"y":-1.0},{"x":29.25,"y":1.6},{"x":37.9,"y":-1.5},{"x":38.9,"y":-1.2},{"x":39.5,"y":-1.8},{"x":40.1,"y":-1.4},{"x":41.1,"y":-1.5},{"x":41.7,"y":-1.2},{"x":42.3,"y":0.2},{"x":43.6,"y":-1.8},{"x":44.3,"y":-0.6},{"x":48.4,"y":-3.1},{"x":39.8,"y":-2.2},{"x":38.5,"y":0.25},{"x":36.0,"y":-2.2},{"x":35.4,"y":-1.4},{"x":34.1,"y":0.06},{"x":34.4,"y":-1.2},{"x":33.1,"y":-0.9},{"x":32.5,"y":-1.8},{"x":31.9,"y":0.06},{"x":30.9,"y":-1.0},{"x":30.0,"y":-1.5},{"x":34.3,"y":-4.4},{"x":36.6,"y":-3.1},{"x":35.0,"y":1.0},{"x":29.0,"y":3.2},{"x":25.5,"y":3.9},{"x":7.7,"y":6.4},{"x":3.3,"y":4.2},{"x":12.5,"y":4.8},{"x":29.3,"y":-3.1},{"x":24.25,"y":-3.1},{"x":20.1,"y":-3.6},{"x":13.8,"y":-3.9},{"x":9.5,"y":-3.4},{"x":31.0,"y":0.8},{"x":32.5,"y":0.5},{"x":33.5,"y":-0.2},{"x":30.5,"y":0.3},{"x":32.0,"y":-0.5}]},"mark":{"type":"point","shape":"circle","filled":false,"size":44,"strokeWidth":0.9,"color":"#3a3a3a","opacity":1}}
]},
{"width":358,"height":335,
"encoding":{"x":{"field":"x","type":"quantitative","scale":{"domain":[-2.033,33.767],"nice":false,"zero":false},"axis":null},"y":{"field":"y","type":"quantitative","scale":{"domain":[-13.23,20.27],"nice":false,"zero":false},"axis":null}},
"layer":[
{"data":{"values":[{"x":0,"y":2,"x2":30.3,"y2":2},{"x":0,"y":-2,"x2":30.3,"y2":-2}]},"mark":{"type":"rule","strokeDash":[2,2.5],"strokeWidth":1.3,"color":"#111"},"encoding":{"x2":{"field":"x2"},"y2":{"field":"y2"}}},
{"data":{"values":[{"x":0,"y":-2,"x2":0,"y2":2},{"x":-0.4,"y":-2,"x2":0,"y2":-2},{"x":-0.4,"y":-1,"x2":0,"y2":-1},{"x":-0.4,"y":0,"x2":0,"y2":0},{"x":-0.4,"y":1,"x2":0,"y2":1},{"x":-0.4,"y":2,"x2":0,"y2":2},{"x":0,"y":-11.73,"x2":25.43,"y2":-11.73},{"x":0,"y":-11.73,"x2":0,"y2":-11.03},{"x":4.93,"y":-11.73,"x2":4.93,"y2":-11.03},{"x":15.17,"y":-11.73,"x2":15.17,"y2":-11.03},{"x":25.43,"y":-11.73,"x2":25.43,"y2":-11.03}]},"mark":{"type":"rule","strokeWidth":1,"color":"#333"},"encoding":{"x2":{"field":"x2"},"y2":{"field":"y2"}}},
{"data":{"values":[{"x":0,"y":0}]},"mark":{"type":"arc","radius":303.7,"radius2":303.7,"theta":1.0512,"theta2":1.8443,"filled":false,"stroke":"#666","strokeWidth":1}},
{"data":{"values":[{"x":26.36,"y":15.08,"x2":25.67,"y2":14.69},{"x":28.39,"y":10.78,"x2":27.65,"y2":10.5},{"x":29.52,"y":7.14,"x2":28.75,"y2":6.95},{"x":30.21,"y":3.16,"x2":29.42,"y2":3.08},{"x":30.35,"y":-1.0,"x2":29.56,"y2":-0.97},{"x":29.94,"y":-5.11,"x2":29.16,"y2":-4.98},{"x":29.24,"y":-8.2,"x2":28.48,"y2":-7.99}]},"mark":{"type":"rule","color":"#666","strokeWidth":1},"encoding":{"x2":{"field":"x2"},"y2":{"field":"y2"}}},
{"data":{"values":[{"x":26.36,"y":15.08,"t":"2.7"},{"x":28.39,"y":10.78,"t":"2"},{"x":29.52,"y":7.14,"t":"1.5"},{"x":30.21,"y":3.16,"t":"1"},{"x":30.35,"y":-1.0,"t":"0.5"},{"x":29.94,"y":-5.11,"t":"0"},{"x":29.24,"y":-8.2,"t":"-0.4"}]},"mark":{"type":"text","align":"left","baseline":"middle","dx":6,"dy":-3,"font":"Liberation Sans","fontSize":12,"color":"#333"},"encoding":{"text":{"field":"t"}}},
{"data":{"values":[{"x":-1.33,"y":-11.73,"t":"σ"},{"x":4.93,"y":-11.73,"t":"0.7"},{"x":15.17,"y":-11.73,"t":"0.2"},{"x":25.43,"y":-11.73,"t":"0.1"}]},"mark":{"type":"text","align":"left","baseline":"middle","dx":1,"dy":-10,"font":"Liberation Sans","fontSize":11,"color":"#333"},"encoding":{"text":{"field":"t"}}},
{"data":{"values":[{"x":-1.6,"y":2,"t":"2"},{"x":-1.6,"y":0,"t":"0"},{"x":-1.6,"y":-2,"t":"-2"}]},"mark":{"type":"text","align":"right","baseline":"middle","font":"Liberation Sans","fontSize":11,"color":"#333"},"encoding":{"text":{"field":"t"}}},
{"data":{"values":[{"x":12.1,"y":14.57,"t":"p=0.95, Ng=200"},{"x":12.94,"y":12.52,"t":"CAM De=0.62±0.011 Gy"}]},"mark":{"type":"text","font":"Liberation Serif","fontSize":19,"align":"center","baseline":"middle","color":"#111"},"encoding":{"text":{"field":"t"}}},
{"data":{"values":[{"x":-1.33,"y":14.27,"t":"I"}]},"mark":{"type":"text","font":"Liberation Sans","fontWeight":"bold","fontSize":19,"align":"center","baseline":"middle","color":"#000"},"encoding":{"text":{"field":"t"}}},
{"data":{"values":[{"x":33.07,"y":5.27,"t":"Simulated De  (Gy)"}]},"mark":{"type":"text","angle":90,"font":"Liberation Serif","fontSize":15,"align":"center","baseline":"middle","color":"#222"},"encoding":{"text":{"field":"t"}}},
{"data":{"values":[{"x":15.1,"y":-12.56,"t":"Standard error"}]},"mark":{"type":"text","font":"Liberation Serif","fontSize":15,"align":"center","baseline":"middle","color":"#222"},"encoding":{"text":{"field":"t"}}},
{"data":{"values":[{"x":10.8,"y":-0.8},{"x":11.05,"y":0.2},{"x":10.6,"y":1.2},{"x":10.95,"y":2.2},{"x":10.7,"y":3.0},{"x":11.5,"y":-1.2},{"x":11.75,"y":-0.2},{"x":11.3,"y":0.8},{"x":11.65,"y":1.8},{"x":11.4,"y":2.8},{"x":11.7,"y":3.8},{"x":12.2,"y":-1.6},{"x":12.45,"y":-0.6},{"x":12.0,"y":0.4},{"x":12.35,"y":1.4},{"x":12.1,"y":2.4},{"x":12.4,"y":3.4},{"x":11.95,"y":4.4},{"x":12.9,"y":-1.9},{"x":13.15,"y":-0.9},{"x":12.7,"y":0.1},{"x":13.05,"y":1.1},{"x":12.8,"y":2.1},{"x":13.1,"y":3.1},{"x":12.65,"y":4.1},{"x":13.6,"y":-2.2},{"x":13.85,"y":-1.2},{"x":13.4,"y":-0.2},{"x":13.75,"y":0.8},{"x":13.5,"y":1.8},{"x":13.8,"y":2.8},{"x":13.35,"y":3.6},{"x":14.3,"y":-2.5},{"x":14.55,"y":-1.5},{"x":14.1,"y":-0.5},{"x":14.45,"y":0.5},{"x":14.2,"y":1.5},{"x":14.5,"y":2.5},{"x":14.05,"y":3.5},{"x":15.0,"y":-2.8},{"x":15.25,"y":-1.8},{"x":14.8,"y":-0.8},{"x":15.15,"y":0.2},{"x":14.9,"y":1.2},{"x":15.2,"y":2.2},{"x":14.75,"y":3.1},{"x":15.7,"y":-3.1},{"x":15.95,"y":-2.1},{"x":15.5,"y":-1.1},{"x":15.85,"y":-0.1},{"x":15.6,"y":0.9},{"x":15.9,"y":1.9},{"x":15.45,"y":2.8},{"x":16.4,"y":-3.3},{"x":16.65,"y":-2.3},{"x":16.2,"y":-1.3},{"x":16.55,"y":-0.3},{"x":16.3,"y":0.7},{"x":16.6,"y":1.7},{"x":16.15,"y":2.6},{"x":17.1,"y":-3.6},{"x":17.35,"y":-2.6},{"x":16.9,"y":-1.6},{"x":17.25,"y":-0.6},{"x":17.0,"y":0.4},{"x":17.3,"y":1.4},{"x":16.85,"y":2.3},{"x":17.8,"y":-3.8},{"x":18.05,"y":-2.8},{"x":17.6,"y":-1.8},{"x":17.95,"y":-0.8},{"x":17.7,"y":0.2},{"x":18.0,"y":1.2},{"x":17.55,"y":2.1},{"x":18.5,"y":-4.0},{"x":18.75,"y":-3.0},{"x":18.3,"y":-2.0},{"x":18.65,"y":-1.0},{"x":18.4,"y":0.0},{"x":18.7,"y":1.0},{"x":18.25,"y":1.8},{"x":19.2,"y":-3.7},{"x":19.45,"y":-2.7},{"x":19.0,"y":-1.7},{"x":19.35,"y":-0.7},{"x":19.1,"y":0.3},{"x":19.4,"y":1.2},{"x":19.9,"y":-3.9},{"x":20.15,"y":-2.9},{"x":19.7,"y":-1.9},{"x":20.05,"y":-0.9},{"x":19.8,"y":0.1},{"x":20.1,"y":0.9},{"x":20.6,"y":-3.6},{"x":20.85,"y":-2.6},{"x":20.4,"y":-1.6},{"x":20.75,"y":-0.6},{"x":20.5,"y":0.3},{"x":21.3,"y":-3.9},{"x":21.55,"y":-2.9},{"x":21.1,"y":-1.9},{"x":21.45,"y":-0.9},{"x":21.2,"y":-0.1},{"x":22.0,"y":-3.4},{"x":22.25,"y":-2.4},{"x":22.8,"y":-1.4},{"x":11.15,"y":-0.3},{"x":11.15,"y":0.7},{"x":11.15,"y":1.7},{"x":11.15,"y":2.7},{"x":11.85,"y":-0.7},{"x":11.85,"y":0.3},{"x":11.85,"y":1.3},{"x":11.85,"y":2.3},{"x":11.85,"y":3.3},{"x":12.55,"y":-1.1},{"x":12.55,"y":-0.1},{"x":12.55,"y":0.9},{"x":12.55,"y":1.9},{"x":12.55,"y":2.9},{"x":12.55,"y":3.9},{"x":13.25,"y":-1.4},{"x":13.25,"y":-0.4},{"x":13.25,"y":0.6},{"x":13.25,"y":1.6},{"x":13.25,"y":2.6},{"x":13.25,"y":3.6},{"x":13.95,"y":-1.7},{"x":13.95,"y":-0.7},{"x":13.95,"y":0.3},{"x":13.95,"y":1.3},{"x":13.95,"y":2.3},{"x":13.95,"y":3.2},{"x":14.65,"y":-2.0},{"x":14.65,"y":-1.0},{"x":14.65,"y":0.0},{"x":14.65,"y":1.0},{"x":14.65,"y":2.0},{"x":14.65,"y":3.0},{"x":15.35,"y":-2.3},{"x":15.35,"y":-1.3},{"x":15.35,"y":-0.3},{"x":15.35,"y":0.7},{"x":15.35,"y":1.7},{"x":15.35,"y":2.7},{"x":16.05,"y":-2.6},{"x":16.05,"y":-1.6},{"x":16.05,"y":-0.6},{"x":16.05,"y":0.4},{"x":16.05,"y":1.4},{"x":16.05,"y":2.4},{"x":16.75,"y":-2.8},{"x":16.75,"y":-1.8},{"x":16.75,"y":-0.8},{"x":16.75,"y":0.2},{"x":16.75,"y":1.2},{"x":16.75,"y":2.2},{"x":17.45,"y":-3.1},{"x":17.45,"y":-2.1},{"x":17.45,"y":-1.1},{"x":17.45,"y":-0.1},{"x":17.45,"y":0.9},{"x":17.45,"y":1.9},{"x":18.15,"y":-3.3},{"x":18.15,"y":-2.3},{"x":18.15,"y":-1.3},{"x":18.15,"y":-0.3},{"x":18.15,"y":0.7},{"x":18.15,"y":1.6},{"x":18.85,"y":-3.5},{"x":18.85,"y":-2.5},{"x":18.85,"y":-1.5},{"x":18.85,"y":-0.5},{"x":18.85,"y":0.5},{"x":18.85,"y":1.4},{"x":19.55,"y":-3.2},{"x":19.55,"y":-2.2},{"x":19.55,"y":-1.2},{"x":19.55,"y":-0.2},{"x":19.55,"y":0.7},{"x":20.25,"y":-3.4},{"x":20.25,"y":-2.4},{"x":20.25,"y":-1.4},{"x":20.25,"y":-0.4},{"x":20.25,"y":0.5},{"x":20.95,"y":-3.1},{"x":20.95,"y":-2.1},{"x":20.95,"y":-1.1},{"x":20.95,"y":-0.1},{"x":21.65,"y":-3.4},{"x":21.65,"y":-2.4},{"x":21.65,"y":-1.4},{"x":21.65,"y":-0.5},{"x":4.9,"y":0.7},{"x":6.6,"y":-1.1},{"x":7.2,"y":-0.9},{"x":7.4,"y":0.1},{"x":7.8,"y":-0.5},{"x":8.3,"y":-0.6},{"x":8.4,"y":-0.1},{"x":8.8,"y":0.6},{"x":8.9,"y":-0.7},{"x":9.3,"y":5.3},{"x":9.6,"y":3.4},{"x":10.3,"y":3.7},{"x":9.8,"y":2.4},{"x":9.8,"y":1.3},{"x":9.4,"y":-0.2},{"x":9.9,"y":-1.4},{"x":10.3,"y":0.6},{"x":10.4,"y":-0.6},{"x":10.9,"y":1.5},{"x":11.6,"y":-1.6},{"x":11.9,"y":-2.1},{"x":23.1,"y":-0.3},{"x":23.6,"y":-2.3},{"x":24.1,"y":-2.4},{"x":24.6,"y":-3.7},{"x":23.4,"y":-3.8},{"x":25.4,"y":-3.2},{"x":22.4,"y":-4.2},{"x":17.8,"y":-5.0},{"x":20.8,"y":-4.3},{"x":22.6,"y":-2.3},{"x":12.4,"y":4.4},{"x":13.8,"y":4.1},{"x":9.0,"y":1.8},{"x":10.0,"y":-0.8}]},"mark":{"type":"point","shape":"circle","filled":false,"size":44,"strokeWidth":0.9,"color":"#3a3a3a","opacity":1}}
]}
],"spacing":0,"bounds":"flush"}
]
}
